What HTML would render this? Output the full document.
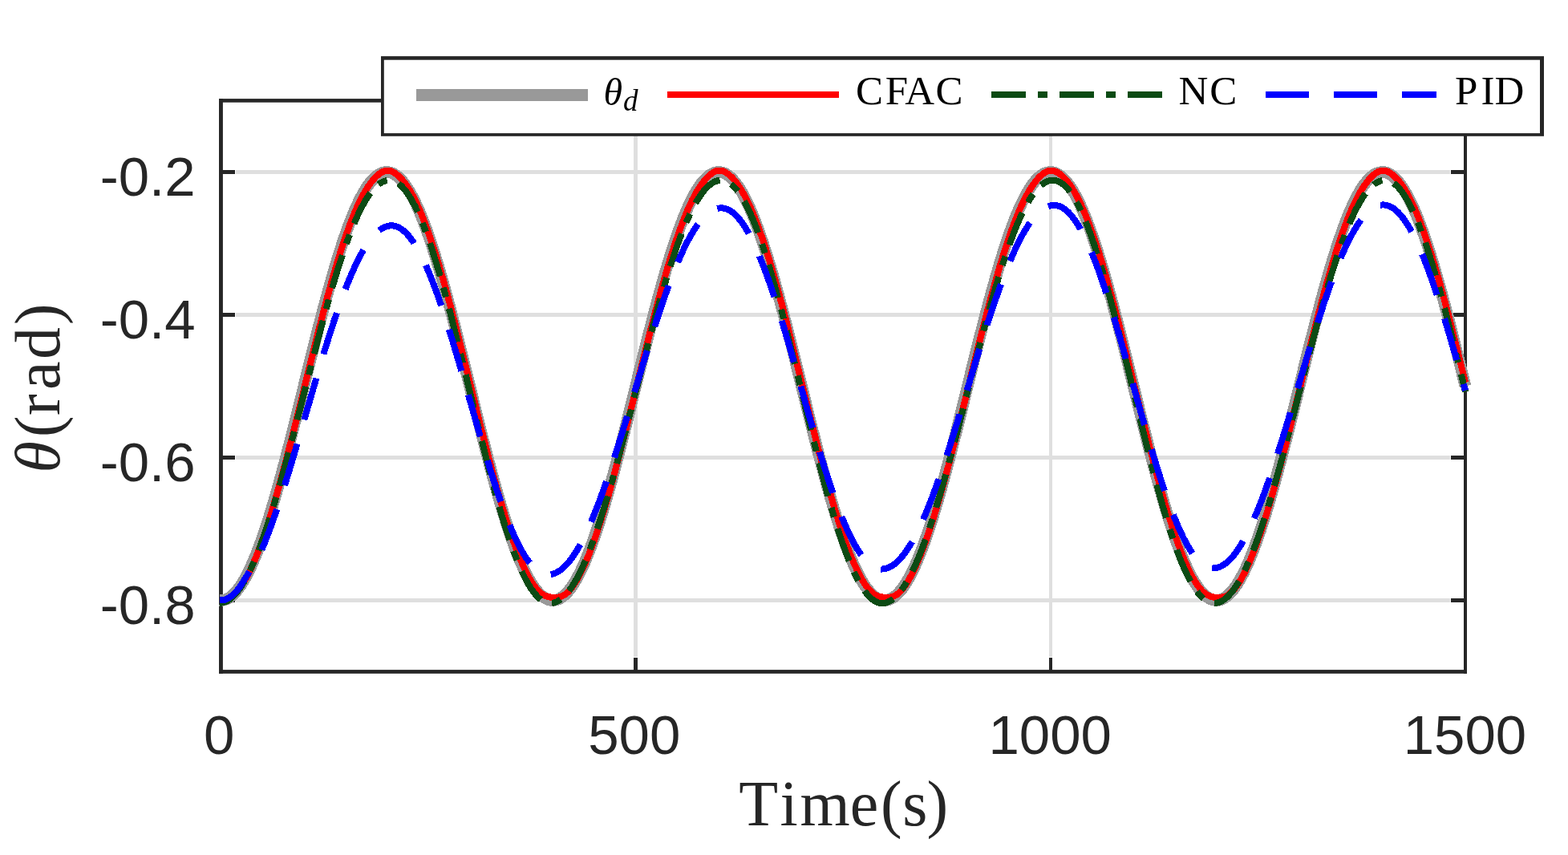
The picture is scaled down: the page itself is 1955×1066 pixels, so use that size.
<!DOCTYPE html>
<html lang="en">
<head>
<meta charset="utf-8">
<title>Tracking performance</title>
<style>
html,body{margin:0;padding:0;background:#ffffff;}
body{width:1955px;height:1066px;overflow:hidden;}
svg{display:block;}
</style>
</head>
<body>
<svg width="1955" height="1066" viewBox="0 0 1955 1066">
<rect x="0" y="0" width="1955" height="1066" fill="#ffffff"/>
<g fill="#dfdfdf" shape-rendering="crispEdges">
<rect x="294" y="212.1" width="1514" height="4.7"/>
<rect x="294" y="390.1" width="1514" height="4.7"/>
<rect x="294" y="568.1" width="1514" height="4.7"/>
<rect x="294" y="746.1" width="1514" height="4.7"/>
<rect x="790.0" y="144" width="5" height="675"/>
<rect x="1308.0" y="144" width="4" height="675"/>
</g>
<g fill="#262626">
<rect x="273" y="123.1" width="1556" height="4.6"/>
<rect x="273" y="835.1" width="1556" height="4.7"/>
<rect x="273" y="123.1" width="4.9" height="716.7"/>
<rect x="1825" y="123.1" width="4" height="716.7"/>
<rect x="277" y="212.0" width="16" height="5"/>
<rect x="1809" y="212.0" width="17" height="5"/>
<rect x="277" y="390.0" width="16" height="5"/>
<rect x="1809" y="390.0" width="17" height="5"/>
<rect x="277" y="568.0" width="16" height="5"/>
<rect x="1809" y="568.0" width="17" height="5"/>
<rect x="277" y="746.0" width="16" height="5"/>
<rect x="1809" y="746.0" width="17" height="5"/>
<rect x="790.0" y="820" width="5" height="16"/>
<rect x="790.0" y="127" width="5" height="16"/>
<rect x="1308.0" y="820" width="4" height="16"/>
<rect x="1308.0" y="127" width="4" height="16"/>
</g>
<g fill="none" stroke-linejoin="round" stroke-linecap="butt" shape-rendering="crispEdges">
<path d="M273.85,748.43 L274.88,748.49 L275.92,748.49 L276.95,748.43 L277.99,748.29 L279.03,748.10 L280.06,747.83 L281.10,747.50 L282.13,747.11 L283.17,746.64 L284.20,746.12 L285.24,745.53 L286.27,744.87 L287.31,744.15 L288.34,743.36 L289.38,742.51 L290.42,741.59 L291.45,740.61 L292.49,739.56 L293.52,738.45 L294.56,737.28 L295.59,736.05 L296.63,734.75 L297.66,733.39 L298.70,731.96 L299.73,730.48 L300.77,728.93 L301.81,727.32 L302.84,725.65 L303.88,723.92 L304.91,722.13 L305.95,720.29 L306.98,718.38 L308.02,716.41 L309.05,714.39 L310.09,712.30 L311.13,710.17 L312.16,707.97 L313.20,705.72 L314.23,703.41 L315.27,701.05 L316.30,698.63 L317.34,696.16 L318.37,693.64 L319.41,691.07 L320.44,688.44 L321.48,685.76 L322.52,683.03 L323.55,680.25 L324.59,677.42 L325.62,674.55 L326.66,671.62 L327.69,668.65 L328.73,665.64 L329.76,662.57 L330.80,659.47 L331.83,656.31 L332.87,653.12 L333.91,649.88 L334.94,646.60 L335.98,643.28 L337.01,639.92 L338.05,636.53 L339.08,633.09 L340.12,629.61 L341.15,626.10 L342.19,622.56 L343.22,618.97 L344.26,615.36 L345.30,611.71 L346.33,608.03 L347.37,604.32 L348.40,600.57 L349.44,596.80 L350.47,593.00 L351.51,589.17 L352.54,585.32 L353.58,581.44 L354.61,577.53 L355.65,573.60 L356.69,569.65 L357.72,565.68 L358.76,561.68 L359.79,557.67 L360.83,553.64 L361.86,549.58 L362.90,545.52 L363.93,541.43 L364.97,537.34 L366.00,533.22 L367.04,529.10 L368.08,524.96 L369.11,520.81 L370.15,516.66 L371.18,512.49 L372.22,508.32 L373.25,504.14 L374.29,499.95 L375.32,495.76 L376.36,491.57 L377.39,487.37 L378.43,483.17 L379.47,478.98 L380.50,474.78 L381.54,470.58 L382.57,466.39 L383.61,462.20 L384.64,458.01 L385.68,453.84 L386.71,449.66 L387.75,445.50 L388.78,441.34 L389.82,437.20 L390.86,433.06 L391.89,428.94 L392.93,424.83 L393.96,420.74 L395.00,416.66 L396.03,412.59 L397.07,408.55 L398.10,404.52 L399.14,400.51 L400.18,396.52 L401.21,392.55 L402.25,388.60 L403.28,384.67 L404.32,380.77 L405.35,376.90 L406.39,373.05 L407.42,369.23 L408.46,365.43 L409.49,361.67 L410.53,357.93 L411.57,354.22 L412.60,350.55 L413.64,346.91 L414.67,343.30 L415.71,339.72 L416.74,336.18 L417.78,332.68 L418.81,329.21 L419.85,325.78 L420.88,322.39 L421.92,319.04 L422.96,315.73 L423.99,312.46 L425.03,309.23 L426.06,306.04 L427.10,302.90 L428.13,299.80 L429.17,296.75 L430.20,293.74 L431.24,290.78 L432.27,287.86 L433.31,285.00 L434.35,282.18 L435.38,279.41 L436.42,276.69 L437.45,274.02 L438.49,271.41 L439.52,268.84 L440.56,266.33 L441.59,263.87 L442.63,261.47 L443.66,259.12 L444.70,256.82 L445.74,254.58 L446.77,252.40 L447.81,250.27 L448.84,248.20 L449.88,246.19 L450.91,244.23 L451.95,242.34 L452.98,240.50 L454.02,238.72 L455.05,237.00 L456.09,235.35 L457.13,233.75 L458.16,232.22 L459.20,230.74 L460.23,229.33 L461.27,227.98 L462.30,226.70 L463.34,225.48 L464.37,224.32 L465.41,223.22 L466.44,222.19 L467.48,221.22 L468.52,220.32 L469.55,219.48 L470.59,218.70 L471.62,217.99 L472.66,217.35 L473.69,216.77 L474.73,216.26 L475.76,215.81 L476.80,215.43 L477.83,215.11 L478.87,214.86 L479.91,214.67 L480.94,214.56 L481.98,214.50 L483.01,214.52 L484.05,214.60 L485.08,214.74 L486.12,214.95 L487.15,215.23 L488.19,215.57 L489.22,215.98 L490.26,216.46 L491.30,217.00 L492.33,217.60 L493.37,218.27 L494.40,219.01 L495.44,219.81 L496.47,220.67 L497.51,221.60 L498.54,222.60 L499.58,223.65 L500.62,224.78 L501.65,225.96 L502.69,227.21 L503.72,228.52 L504.76,229.89 L505.79,231.33 L506.83,232.83 L507.86,234.39 L508.90,236.01 L509.93,237.69 L510.97,239.43 L512.01,241.23 L513.04,243.09 L514.08,245.01 L515.11,246.99 L516.15,249.02 L517.18,251.12 L518.22,253.27 L519.25,255.48 L520.29,257.74 L521.32,260.06 L522.36,262.43 L523.40,264.86 L524.43,267.34 L525.47,269.87 L526.50,272.46 L527.54,275.09 L528.57,277.78 L529.61,280.52 L530.64,283.31 L531.68,286.15 L532.71,289.03 L533.75,291.97 L534.79,294.95 L535.82,297.97 L536.86,301.04 L537.89,304.16 L538.93,307.32 L539.96,310.52 L541.00,313.77 L542.03,317.06 L543.07,320.38 L544.10,323.75 L545.14,327.16 L546.18,330.60 L547.21,334.08 L548.25,337.60 L549.28,341.16 L550.32,344.75 L551.35,348.37 L552.39,352.02 L553.42,355.71 L554.46,359.43 L555.49,363.18 L556.53,366.96 L557.57,370.76 L558.60,374.60 L559.64,378.46 L560.67,382.34 L561.71,386.25 L562.74,390.19 L563.78,394.14 L564.81,398.12 L565.85,402.12 L566.88,406.14 L567.92,410.17 L568.96,414.23 L569.99,418.30 L571.03,422.38 L572.06,426.49 L573.10,430.60 L574.13,434.73 L575.17,438.87 L576.20,443.02 L577.24,447.17 L578.27,451.34 L579.31,455.52 L580.35,459.70 L581.38,463.89 L582.42,468.08 L583.45,472.27 L584.49,476.47 L585.52,480.67 L586.56,484.86 L587.59,489.06 L588.63,493.26 L589.67,497.45 L590.70,501.64 L591.74,505.82 L592.77,510.00 L593.81,514.17 L594.84,518.33 L595.88,522.48 L596.91,526.63 L597.95,530.76 L598.98,534.88 L600.02,538.99 L601.06,543.08 L602.09,547.16 L603.13,551.22 L604.16,555.26 L605.20,559.29 L606.23,563.29 L607.27,567.28 L608.30,571.24 L609.34,575.19 L610.37,579.11 L611.41,583.00 L612.45,586.87 L613.48,590.72 L614.52,594.53 L615.55,598.32 L616.59,602.08 L617.62,605.81 L618.66,609.51 L619.69,613.18 L620.73,616.82 L621.76,620.42 L622.80,623.99 L623.84,627.52 L624.87,631.02 L625.91,634.48 L626.94,637.90 L627.98,641.28 L629.01,644.63 L630.05,647.93 L631.08,651.19 L632.12,654.41 L633.15,657.59 L634.19,660.72 L635.23,663.81 L636.26,666.86 L637.30,669.86 L638.33,672.81 L639.37,675.71 L640.40,678.57 L641.44,681.38 L642.47,684.14 L643.51,686.84 L644.54,689.50 L645.58,692.11 L646.62,694.66 L647.65,697.16 L648.69,699.61 L649.72,702.01 L650.76,704.35 L651.79,706.63 L652.83,708.86 L653.86,711.03 L654.90,713.15 L655.93,715.21 L656.97,717.21 L658.01,719.15 L659.04,721.04 L660.08,722.86 L661.11,724.63 L662.15,726.33 L663.18,727.98 L664.22,729.56 L665.25,731.08 L666.29,732.54 L667.32,733.94 L668.36,735.28 L669.40,736.55 L670.43,737.76 L671.47,738.91 L672.50,739.99 L673.54,741.01 L674.57,741.97 L675.61,742.86 L676.64,743.68 L677.68,744.44 L678.71,745.14 L679.75,745.77 L680.79,746.34 L681.82,746.84 L682.86,747.27 L683.89,747.64 L684.93,747.95 L685.96,748.18 L687.00,748.35 L688.03,748.46 L689.07,748.50 L690.11,748.47 L691.14,748.38 L692.18,748.22 L693.21,748.00 L694.25,747.71 L695.28,747.35 L696.32,746.93 L697.35,746.44 L698.39,745.89 L699.42,745.27 L700.46,744.59 L701.50,743.84 L702.53,743.03 L703.57,742.15 L704.60,741.20 L705.64,740.20 L706.67,739.13 L707.71,737.99 L708.74,736.80 L709.78,735.53 L710.81,734.21 L711.85,732.82 L712.89,731.38 L713.92,729.87 L714.96,728.29 L715.99,726.66 L717.03,724.97 L718.06,723.22 L719.10,721.40 L720.13,719.53 L721.17,717.60 L722.20,715.61 L723.24,713.56 L724.28,711.46 L725.31,709.30 L726.35,707.08 L727.38,704.80 L728.42,702.47 L729.45,700.09 L730.49,697.65 L731.52,695.16 L732.56,692.62 L733.59,690.02 L734.63,687.37 L735.67,684.68 L736.70,681.93 L737.74,679.13 L738.77,676.28 L739.81,673.39 L740.84,670.44 L741.88,667.45 L742.91,664.42 L743.95,661.34 L744.98,658.21 L746.02,655.04 L747.06,651.83 L748.09,648.58 L749.13,645.28 L750.16,641.95 L751.20,638.57 L752.23,635.16 L753.27,631.70 L754.30,628.22 L755.34,624.69 L756.37,621.13 L757.41,617.53 L758.45,613.90 L759.48,610.24 L760.52,606.55 L761.55,602.82 L762.59,599.07 L763.62,595.29 L764.66,591.47 L765.69,587.63 L766.73,583.77 L767.76,579.88 L768.80,575.96 L769.84,572.03 L770.87,568.07 L771.91,564.08 L772.94,560.08 L773.98,556.06 L775.01,552.02 L776.05,547.96 L777.08,543.89 L778.12,539.80 L779.15,535.69 L780.19,531.58 L781.23,527.45 L782.26,523.31 L783.30,519.15 L784.33,514.99 L785.37,510.82 L786.40,506.65 L787.44,502.47 L788.47,498.28 L789.51,494.09 L790.55,489.89 L791.58,485.69 L792.62,481.50 L793.65,477.30 L794.69,473.10 L795.72,468.91 L796.76,464.71 L797.79,460.53 L798.83,456.34 L799.86,452.17 L800.90,448.00 L801.94,443.84 L802.97,439.69 L804.01,435.55 L805.04,431.42 L806.08,427.30 L807.11,423.19 L808.15,419.10 L809.18,415.03 L810.22,410.97 L811.25,406.93 L812.29,402.91 L813.33,398.91 L814.36,394.93 L815.40,390.97 L816.43,387.03 L817.47,383.11 L818.50,379.22 L819.54,375.36 L820.57,371.52 L821.61,367.71 L822.64,363.92 L823.68,360.17 L824.72,356.44 L825.75,352.75 L826.79,349.09 L827.82,345.46 L828.86,341.86 L829.89,338.30 L830.93,334.78 L831.96,331.29 L833.00,327.84 L834.03,324.42 L835.07,321.05 L836.11,317.71 L837.14,314.42 L838.18,311.16 L839.21,307.95 L840.25,304.78 L841.28,301.66 L842.32,298.58 L843.35,295.54 L844.39,292.55 L845.42,289.61 L846.46,286.71 L847.50,283.87 L848.53,281.07 L849.57,278.32 L850.60,275.62 L851.64,272.97 L852.67,270.38 L853.71,267.83 L854.74,265.34 L855.78,262.90 L856.81,260.52 L857.85,258.19 L858.89,255.92 L859.92,253.70 L860.96,251.54 L861.99,249.43 L863.03,247.39 L864.06,245.40 L865.10,243.47 L866.13,241.59 L867.17,239.78 L868.20,238.03 L869.24,236.33 L870.28,234.70 L871.31,233.13 L872.35,231.62 L873.38,230.17 L874.42,228.79 L875.45,227.46 L876.49,226.20 L877.52,225.00 L878.56,223.87 L879.60,222.80 L880.63,221.79 L881.67,220.85 L882.70,219.97 L883.74,219.16 L884.77,218.41 L885.81,217.73 L886.84,217.11 L887.88,216.56 L888.91,216.07 L889.95,215.65 L890.99,215.29 L892.02,215.00 L893.06,214.78 L894.09,214.62 L895.13,214.53 L896.16,214.50 L897.20,214.54 L898.23,214.65 L899.27,214.82 L900.30,215.05 L901.34,215.36 L902.38,215.73 L903.41,216.16 L904.45,216.66 L905.48,217.23 L906.52,217.86 L907.55,218.56 L908.59,219.32 L909.62,220.14 L910.66,221.04 L911.69,221.99 L912.73,223.01 L913.77,224.09 L914.80,225.24 L915.84,226.45 L916.87,227.73 L917.91,229.06 L918.94,230.46 L919.98,231.92 L921.01,233.44 L922.05,235.03 L923.08,236.67 L924.12,238.38 L925.16,240.14 L926.19,241.97 L927.23,243.85 L928.26,245.79 L929.30,247.80 L930.33,249.85 L931.37,251.97 L932.40,254.14 L933.44,256.37 L934.47,258.66 L935.51,261.00 L936.55,263.39 L937.58,265.84 L938.62,268.34 L939.65,270.90 L940.69,273.50 L941.72,276.16 L942.76,278.87 L943.79,281.63 L944.83,284.44 L945.86,287.29 L946.90,290.20 L947.94,293.15 L948.97,296.15 L950.01,299.19 L951.04,302.28 L952.08,305.42 L953.11,308.60 L954.15,311.82 L955.18,315.08 L956.22,318.38 L957.25,321.72 L958.29,325.11 L959.33,328.53 L960.36,331.99 L961.40,335.49 L962.43,339.02 L963.47,342.59 L964.50,346.19 L965.54,349.83 L966.57,353.49 L967.61,357.19 L968.64,360.92 L969.68,364.68 L970.72,368.47 L971.75,372.29 L972.79,376.14 L973.82,380.01 L974.86,383.90 L975.89,387.82 L976.93,391.76 L977.96,395.73 L979.00,399.71 L980.04,403.72 L981.07,407.75 L982.11,411.79 L983.14,415.85 L984.18,419.93 L985.21,424.02 L986.25,428.13 L987.28,432.25 L988.32,436.38 L989.35,440.52 L990.39,444.68 L991.43,448.84 L992.46,453.01 L993.50,457.19 L994.53,461.37 L995.57,465.56 L996.60,469.75 L997.64,473.95 L998.67,478.14 L999.71,482.34 L1000.74,486.54 L1001.78,490.74 L1002.82,494.93 L1003.85,499.12 L1004.89,503.31 L1005.92,507.49 L1006.96,511.67 L1007.99,515.83 L1009.03,519.99 L1010.06,524.14 L1011.10,528.28 L1012.13,532.41 L1013.17,536.52 L1014.21,540.62 L1015.24,544.71 L1016.28,548.78 L1017.31,552.84 L1018.35,556.87 L1019.38,560.89 L1020.42,564.89 L1021.45,568.87 L1022.49,572.82 L1023.52,576.76 L1024.56,580.67 L1025.60,584.55 L1026.63,588.41 L1027.67,592.25 L1028.70,596.05 L1029.74,599.83 L1030.77,603.58 L1031.81,607.30 L1032.84,610.98 L1033.88,614.64 L1034.91,618.26 L1035.95,621.85 L1036.99,625.40 L1038.02,628.92 L1039.06,632.40 L1040.09,635.85 L1041.13,639.26 L1042.16,642.62 L1043.20,645.95 L1044.23,649.24 L1045.27,652.48 L1046.30,655.69 L1047.34,658.85 L1048.38,661.96 L1049.41,665.03 L1050.45,668.06 L1051.48,671.04 L1052.52,673.97 L1053.55,676.86 L1054.59,679.70 L1055.62,682.49 L1056.66,685.22 L1057.69,687.91 L1058.73,690.55 L1059.77,693.14 L1060.80,695.67 L1061.84,698.15 L1062.87,700.58 L1063.91,702.95 L1064.94,705.27 L1065.98,707.53 L1067.01,709.74 L1068.05,711.89 L1069.09,713.98 L1070.12,716.02 L1071.16,717.99 L1072.19,719.91 L1073.23,721.77 L1074.26,723.57 L1075.30,725.32 L1076.33,727.00 L1077.37,728.62 L1078.40,730.18 L1079.44,731.67 L1080.48,733.11 L1081.51,734.48 L1082.55,735.79 L1083.58,737.04 L1084.62,738.23 L1085.65,739.35 L1086.69,740.41 L1087.72,741.40 L1088.76,742.33 L1089.79,743.19 L1090.83,744.00 L1091.87,744.73 L1092.90,745.40 L1093.94,746.01 L1094.97,746.55 L1096.01,747.02 L1097.04,747.43 L1098.08,747.77 L1099.11,748.05 L1100.15,748.26 L1101.18,748.40 L1102.22,748.48 L1103.26,748.50 L1104.29,748.44 L1105.33,748.33 L1106.36,748.14 L1107.40,747.89 L1108.43,747.57 L1109.47,747.19 L1110.50,746.74 L1111.54,746.23 L1112.57,745.65 L1113.61,745.01 L1114.65,744.30 L1115.68,743.52 L1116.72,742.68 L1117.75,741.78 L1118.79,740.81 L1119.82,739.78 L1120.86,738.68 L1121.89,737.52 L1122.93,736.30 L1123.96,735.01 L1125.00,733.66 L1126.04,732.25 L1127.07,730.78 L1128.11,729.25 L1129.14,727.65 L1130.18,725.99 L1131.21,724.28 L1132.25,722.50 L1133.28,720.66 L1134.32,718.77 L1135.35,716.81 L1136.39,714.80 L1137.43,712.73 L1138.46,710.60 L1139.50,708.42 L1140.53,706.18 L1141.57,703.88 L1142.60,701.53 L1143.64,699.12 L1144.67,696.66 L1145.71,694.15 L1146.74,691.59 L1147.78,688.97 L1148.82,686.30 L1149.85,683.58 L1150.89,680.81 L1151.92,678.00 L1152.96,675.13 L1153.99,672.22 L1155.03,669.25 L1156.06,666.25 L1157.10,663.19 L1158.13,660.09 L1159.17,656.95 L1160.21,653.76 L1161.24,650.54 L1162.28,647.27 L1163.31,643.95 L1164.35,640.60 L1165.38,637.21 L1166.42,633.78 L1167.45,630.31 L1168.49,626.81 L1169.53,623.27 L1170.56,619.70 L1171.60,616.09 L1172.63,612.44 L1173.67,608.77 L1174.70,605.06 L1175.74,601.33 L1176.77,597.56 L1177.81,593.77 L1178.84,589.94 L1179.88,586.09 L1180.92,582.22 L1181.95,578.32 L1182.99,574.39 L1184.02,570.45 L1185.06,566.48 L1186.09,562.49 L1187.13,558.48 L1188.16,554.45 L1189.20,550.40 L1190.23,546.34 L1191.27,542.25 L1192.31,538.16 L1193.34,534.05 L1194.38,529.93 L1195.41,525.79 L1196.45,521.65 L1197.48,517.49 L1198.52,513.33 L1199.55,509.16 L1200.59,504.98 L1201.62,500.79 L1202.66,496.60 L1203.70,492.41 L1204.73,488.21 L1205.77,484.02 L1206.80,479.82 L1207.84,475.62 L1208.87,471.42 L1209.91,467.23 L1210.94,463.04 L1211.98,458.85 L1213.01,454.67 L1214.05,450.50 L1215.09,446.33 L1216.12,442.18 L1217.16,438.03 L1218.19,433.89 L1219.23,429.77 L1220.26,425.66 L1221.30,421.56 L1222.33,417.47 L1223.37,413.41 L1224.40,409.36 L1225.44,405.32 L1226.48,401.31 L1227.51,397.32 L1228.55,393.34 L1229.58,389.39 L1230.62,385.46 L1231.65,381.56 L1232.69,377.68 L1233.72,373.82 L1234.76,369.99 L1235.79,366.19 L1236.83,362.42 L1237.87,358.68 L1238.90,354.96 L1239.94,351.28 L1240.97,347.63 L1242.01,344.02 L1243.04,340.44 L1244.08,336.89 L1245.11,333.38 L1246.15,329.90 L1247.18,326.47 L1248.22,323.07 L1249.26,319.71 L1250.29,316.39 L1251.33,313.11 L1252.36,309.87 L1253.40,306.68 L1254.43,303.53 L1255.47,300.42 L1256.50,297.36 L1257.54,294.34 L1258.58,291.37 L1259.61,288.45 L1260.65,285.57 L1261.68,282.74 L1262.72,279.96 L1263.75,277.23 L1264.79,274.56 L1265.82,271.93 L1266.86,269.35 L1267.89,266.83 L1268.93,264.36 L1269.97,261.95 L1271.00,259.58 L1272.04,257.28 L1273.07,255.03 L1274.11,252.83 L1275.14,250.69 L1276.18,248.61 L1277.21,246.58 L1278.25,244.62 L1279.28,242.71 L1280.32,240.86 L1281.36,239.07 L1282.39,237.34 L1283.43,235.68 L1284.46,234.07 L1285.50,232.52 L1286.53,231.03 L1287.57,229.61 L1288.60,228.25 L1289.64,226.95 L1290.67,225.72 L1291.71,224.54 L1292.75,223.43 L1293.78,222.39 L1294.82,221.41 L1295.85,220.49 L1296.89,219.64 L1297.92,218.85 L1298.96,218.13 L1299.99,217.47 L1301.03,216.88 L1302.06,216.35 L1303.10,215.89 L1304.14,215.50 L1305.17,215.17 L1306.21,214.90 L1307.24,214.71 L1308.28,214.57 L1309.31,214.51 L1310.35,214.51 L1311.38,214.57 L1312.42,214.71 L1313.45,214.90 L1314.49,215.17 L1315.53,215.50 L1316.56,215.89 L1317.60,216.35 L1318.63,216.88 L1319.67,217.47 L1320.70,218.13 L1321.74,218.85 L1322.77,219.64 L1323.81,220.49 L1324.84,221.41 L1325.88,222.39 L1326.92,223.44 L1327.95,224.54 L1328.99,225.72 L1330.02,226.95 L1331.06,228.25 L1332.09,229.61 L1333.13,231.04 L1334.16,232.52 L1335.20,234.07 L1336.23,235.68 L1337.27,237.35 L1338.31,239.07 L1339.34,240.86 L1340.38,242.71 L1341.41,244.62 L1342.45,246.59 L1343.48,248.61 L1344.52,250.69 L1345.55,252.83 L1346.59,255.03 L1347.62,257.28 L1348.66,259.59 L1349.70,261.95 L1350.73,264.36 L1351.77,266.83 L1352.80,269.36 L1353.84,271.93 L1354.87,274.56 L1355.91,277.24 L1356.94,279.97 L1357.98,282.74 L1359.02,285.57 L1360.05,288.45 L1361.09,291.37 L1362.12,294.34 L1363.16,297.36 L1364.19,300.42 L1365.23,303.53 L1366.26,306.68 L1367.30,309.88 L1368.33,313.11 L1369.37,316.39 L1370.41,319.71 L1371.44,323.07 L1372.48,326.47 L1373.51,329.91 L1374.55,333.38 L1375.58,336.89 L1376.62,340.44 L1377.65,344.02 L1378.69,347.64 L1379.72,351.29 L1380.76,354.97 L1381.80,358.68 L1382.83,362.42 L1383.87,366.20 L1384.90,370.00 L1385.94,373.82 L1386.97,377.68 L1388.01,381.56 L1389.04,385.46 L1390.08,389.39 L1391.11,393.35 L1392.15,397.32 L1393.19,401.31 L1394.22,405.33 L1395.26,409.36 L1396.29,413.41 L1397.33,417.48 L1398.36,421.56 L1399.40,425.66 L1400.43,429.77 L1401.47,433.90 L1402.50,438.03 L1403.54,442.18 L1404.58,446.34 L1405.61,450.50 L1406.65,454.68 L1407.68,458.86 L1408.72,463.04 L1409.75,467.23 L1410.79,471.43 L1411.82,475.62 L1412.86,479.82 L1413.89,484.02 L1414.93,488.22 L1415.97,492.41 L1417.00,496.61 L1418.04,500.80 L1419.07,504.98 L1420.11,509.16 L1421.14,513.33 L1422.18,517.50 L1423.21,521.65 L1424.25,525.80 L1425.28,529.93 L1426.32,534.05 L1427.36,538.16 L1428.39,542.26 L1429.43,546.34 L1430.46,550.40 L1431.50,554.45 L1432.53,558.48 L1433.57,562.49 L1434.60,566.48 L1435.64,570.45 L1436.67,574.40 L1437.71,578.32 L1438.75,582.22 L1439.78,586.10 L1440.82,589.95 L1441.85,593.77 L1442.89,597.56 L1443.92,601.33 L1444.96,605.07 L1445.99,608.77 L1447.03,612.45 L1448.07,616.09 L1449.10,619.70 L1450.14,623.27 L1451.17,626.81 L1452.21,630.32 L1453.24,633.79 L1454.28,637.21 L1455.31,640.61 L1456.35,643.96 L1457.38,647.27 L1458.42,650.54 L1459.46,653.77 L1460.49,656.95 L1461.53,660.10 L1462.56,663.20 L1463.60,666.25 L1464.63,669.26 L1465.67,672.22 L1466.70,675.13 L1467.74,678.00 L1468.77,680.82 L1469.81,683.59 L1470.85,686.30 L1471.88,688.97 L1472.92,691.59 L1473.95,694.15 L1474.99,696.67 L1476.02,699.13 L1477.06,701.53 L1478.09,703.88 L1479.13,706.18 L1480.16,708.42 L1481.20,710.60 L1482.24,712.73 L1483.27,714.80 L1484.31,716.81 L1485.34,718.77 L1486.38,720.66 L1487.41,722.50 L1488.45,724.28 L1489.48,725.99 L1490.52,727.65 L1491.55,729.25 L1492.59,730.78 L1493.63,732.25 L1494.66,733.67 L1495.70,735.01 L1496.73,736.30 L1497.77,737.52 L1498.80,738.68 L1499.84,739.78 L1500.87,740.81 L1501.91,741.78 L1502.94,742.68 L1503.98,743.52 L1505.02,744.30 L1506.05,745.01 L1507.09,745.65 L1508.12,746.23 L1509.16,746.74 L1510.19,747.19 L1511.23,747.57 L1512.26,747.89 L1513.30,748.14 L1514.33,748.33 L1515.37,748.44 L1516.41,748.50 L1517.44,748.48 L1518.48,748.40 L1519.51,748.26 L1520.55,748.05 L1521.58,747.77 L1522.62,747.43 L1523.65,747.02 L1524.69,746.55 L1525.72,746.01 L1526.76,745.40 L1527.80,744.73 L1528.83,743.99 L1529.87,743.19 L1530.90,742.33 L1531.94,741.40 L1532.97,740.41 L1534.01,739.35 L1535.04,738.23 L1536.08,737.04 L1537.11,735.79 L1538.15,734.48 L1539.19,733.11 L1540.22,731.67 L1541.26,730.17 L1542.29,728.61 L1543.33,726.99 L1544.36,725.31 L1545.40,723.57 L1546.43,721.77 L1547.47,719.91 L1548.51,717.99 L1549.54,716.01 L1550.58,713.98 L1551.61,711.88 L1552.65,709.73 L1553.68,707.53 L1554.72,705.26 L1555.75,702.95 L1556.79,700.57 L1557.82,698.15 L1558.86,695.67 L1559.90,693.13 L1560.93,690.55 L1561.97,687.91 L1563.00,685.22 L1564.04,682.48 L1565.07,679.69 L1566.11,676.86 L1567.14,673.97 L1568.18,671.04 L1569.21,668.06 L1570.25,665.03 L1571.29,661.96 L1572.32,658.84 L1573.36,655.68 L1574.39,652.48 L1575.43,649.23 L1576.46,645.95 L1577.50,642.62 L1578.53,639.25 L1579.57,635.85 L1580.60,632.40 L1581.64,628.92 L1582.68,625.40 L1583.71,621.85 L1584.75,618.26 L1585.78,614.64 L1586.82,610.98 L1587.85,607.29 L1588.89,603.57 L1589.92,599.83 L1590.96,596.05 L1591.99,592.24 L1593.03,588.41 L1594.07,584.55 L1595.10,580.66 L1596.14,576.75 L1597.17,572.82 L1598.21,568.86 L1599.24,564.88 L1600.28,560.89 L1601.31,556.87 L1602.35,552.83 L1603.38,548.78 L1604.42,544.71 L1605.46,540.62 L1606.49,536.52 L1607.53,532.40 L1608.56,528.28 L1609.60,524.14 L1610.63,519.99 L1611.67,515.83 L1612.70,511.66 L1613.74,507.49 L1614.77,503.31 L1615.81,499.12 L1616.85,494.93 L1617.88,490.73 L1618.92,486.54 L1619.95,482.34 L1620.99,478.14 L1622.02,473.94 L1623.06,469.75 L1624.09,465.56 L1625.13,461.37 L1626.16,457.18 L1627.20,453.01 L1628.24,448.84 L1629.27,444.67 L1630.31,440.52 L1631.34,436.38 L1632.38,432.24 L1633.41,428.12 L1634.45,424.02 L1635.48,419.92 L1636.52,415.85 L1637.56,411.79 L1638.59,407.74 L1639.63,403.72 L1640.66,399.71 L1641.70,395.72 L1642.73,391.76 L1643.77,387.82 L1644.80,383.90 L1645.84,380.00 L1646.87,376.13 L1647.91,372.29 L1648.95,368.47 L1649.98,364.68 L1651.02,360.92 L1652.05,357.19 L1653.09,353.49 L1654.12,349.82 L1655.16,346.19 L1656.19,342.58 L1657.23,339.02 L1658.26,335.48 L1659.30,331.99 L1660.34,328.53 L1661.37,325.10 L1662.41,321.72 L1663.44,318.38 L1664.48,315.07 L1665.51,311.81 L1666.55,308.59 L1667.58,305.41 L1668.62,302.28 L1669.65,299.19 L1670.69,296.15 L1671.73,293.15 L1672.76,290.20 L1673.80,287.29 L1674.83,284.43 L1675.87,281.63 L1676.90,278.87 L1677.94,276.16 L1678.97,273.50 L1680.01,270.89 L1681.04,268.34 L1682.08,265.84 L1683.12,263.39 L1684.15,261.00 L1685.19,258.66 L1686.22,256.37 L1687.26,254.14 L1688.29,251.97 L1689.33,249.85 L1690.36,247.79 L1691.40,245.79 L1692.43,243.85 L1693.47,241.97 L1694.51,240.14 L1695.54,238.37 L1696.58,236.67 L1697.61,235.03 L1698.65,233.44 L1699.68,231.92 L1700.72,230.46 L1701.75,229.06 L1702.79,227.72 L1703.82,226.45 L1704.86,225.24 L1705.90,224.09 L1706.93,223.01 L1707.97,221.99 L1709.00,221.03 L1710.04,220.14 L1711.07,219.32 L1712.11,218.56 L1713.14,217.86 L1714.18,217.23 L1715.21,216.66 L1716.25,216.16 L1717.29,215.73 L1718.32,215.36 L1719.36,215.05 L1720.39,214.82 L1721.43,214.65 L1722.46,214.54 L1723.50,214.50 L1724.53,214.53 L1725.57,214.62 L1726.60,214.78 L1727.64,215.00 L1728.68,215.29 L1729.71,215.65 L1730.75,216.07 L1731.78,216.56 L1732.82,217.11 L1733.85,217.73 L1734.89,218.41 L1735.92,219.16 L1736.96,219.97 L1738.00,220.85 L1739.03,221.79 L1740.07,222.80 L1741.10,223.87 L1742.14,225.01 L1743.17,226.20 L1744.21,227.46 L1745.24,228.79 L1746.28,230.17 L1747.31,231.62 L1748.35,233.13 L1749.39,234.70 L1750.42,236.34 L1751.46,238.03 L1752.49,239.78 L1753.53,241.60 L1754.56,243.47 L1755.60,245.40 L1756.63,247.39 L1757.67,249.44 L1758.70,251.54 L1759.74,253.70 L1760.78,255.92 L1761.81,258.19 L1762.85,260.52 L1763.88,262.91 L1764.92,265.34 L1765.95,267.84 L1766.99,270.38 L1768.02,272.98 L1769.06,275.62 L1770.09,278.32 L1771.13,281.07 L1772.17,283.87 L1773.20,286.72 L1774.24,289.61 L1775.27,292.55 L1776.31,295.54 L1777.34,298.58 L1778.38,301.66 L1779.41,304.79 L1780.45,307.95 L1781.48,311.17 L1782.52,314.42 L1783.56,317.71 L1784.59,321.05 L1785.63,324.43 L1786.66,327.84 L1787.70,331.29 L1788.73,334.78 L1789.77,338.31 L1790.80,341.87 L1791.84,345.46 L1792.87,349.09 L1793.91,352.75 L1794.95,356.45 L1795.98,360.17 L1797.02,363.93 L1798.05,367.71 L1799.09,371.52 L1800.12,375.36 L1801.16,379.23 L1802.19,383.12 L1803.23,387.03 L1804.26,390.97 L1805.30,394.93 L1806.34,398.91 L1807.37,402.92 L1808.41,406.94 L1809.44,410.98 L1810.48,415.03 L1811.51,419.11 L1812.55,423.20 L1813.58,427.30 L1814.62,431.42 L1815.65,435.55 L1816.69,439.69 L1817.73,443.84 L1818.76,448.00 L1819.80,452.17 L1820.83,456.35 L1821.87,460.53 L1822.90,464.72 L1823.94,468.91 L1824.97,473.10 L1826.01,477.30 L1827.05,481.50" stroke="#999999" stroke-width="14.7"/>
<path d="M273.85,748.50 L274.88,748.50 L275.92,748.50 L276.95,748.49 L277.99,748.44 L279.03,748.31 L280.06,748.12 L281.10,747.86 L282.13,747.54 L283.17,747.15 L284.20,746.69 L285.24,746.17 L286.27,745.59 L287.31,744.94 L288.34,744.22 L289.38,743.44 L290.42,742.59 L291.45,741.68 L292.49,740.71 L293.52,739.67 L294.56,738.57 L295.59,737.40 L296.63,736.17 L297.66,734.88 L298.70,733.52 L299.73,732.11 L300.77,730.63 L301.81,729.09 L302.84,727.48 L303.88,725.82 L304.91,724.10 L305.95,722.31 L306.98,720.47 L308.02,718.57 L309.05,716.61 L310.09,714.59 L311.13,712.51 L312.16,710.38 L313.20,708.19 L314.23,705.94 L315.27,703.64 L316.30,701.29 L317.34,698.87 L318.37,696.41 L319.41,693.89 L320.44,691.32 L321.48,688.70 L322.52,686.03 L323.55,683.30 L324.59,680.53 L325.62,677.71 L326.66,674.83 L327.69,671.92 L328.73,668.95 L329.76,665.94 L330.80,662.88 L331.83,659.78 L332.87,656.63 L333.91,653.44 L334.94,650.20 L335.98,646.93 L337.01,643.61 L338.05,640.26 L339.08,636.86 L340.12,633.43 L341.15,629.96 L342.19,626.45 L343.22,622.91 L344.26,619.33 L345.30,615.72 L346.33,612.07 L347.37,608.39 L348.40,604.68 L349.44,600.94 L350.47,597.18 L351.51,593.38 L352.54,589.55 L353.58,585.70 L354.61,581.82 L355.65,577.92 L356.69,573.99 L357.72,570.04 L358.76,566.07 L359.79,562.08 L360.83,558.07 L361.86,554.04 L362.90,549.99 L363.93,545.92 L364.97,541.84 L366.00,537.74 L367.04,533.63 L368.08,529.51 L369.11,525.37 L370.15,521.22 L371.18,517.07 L372.22,512.90 L373.25,508.73 L374.29,504.55 L375.32,500.37 L376.36,496.18 L377.39,491.98 L378.43,487.79 L379.47,483.59 L380.50,479.39 L381.54,475.19 L382.57,471.00 L383.61,466.80 L384.64,462.61 L385.68,458.43 L386.71,454.25 L387.75,450.08 L388.78,445.91 L389.82,441.75 L390.86,437.61 L391.89,433.47 L392.93,429.35 L393.96,425.24 L395.00,421.14 L396.03,417.06 L397.07,412.99 L398.10,408.94 L399.14,404.91 L400.18,400.90 L401.21,396.91 L402.25,392.94 L403.28,388.99 L404.32,385.06 L405.35,381.16 L406.39,377.28 L407.42,373.43 L408.46,369.60 L409.49,365.81 L410.53,362.04 L411.57,358.30 L412.60,354.59 L413.64,350.91 L414.67,347.26 L415.71,343.65 L416.74,340.07 L417.78,336.53 L418.81,333.02 L419.85,329.55 L420.88,326.12 L421.92,322.72 L422.96,319.37 L423.99,316.05 L425.03,312.78 L426.06,309.55 L427.10,306.36 L428.13,303.21 L429.17,300.11 L430.20,297.05 L431.24,294.04 L432.27,291.07 L433.31,288.15 L434.35,285.28 L435.38,282.46 L436.42,279.68 L437.45,276.96 L438.49,274.29 L439.52,271.66 L440.56,269.09 L441.59,266.58 L442.63,264.11 L443.66,261.70 L444.70,259.35 L445.74,257.04 L446.77,254.80 L447.81,252.61 L448.84,250.47 L449.88,248.39 L450.91,246.37 L451.95,244.41 L452.98,242.50 L454.02,240.65 L455.05,238.86 L456.09,237.13 L457.13,235.45 L458.16,233.83 L459.20,232.27 L460.23,230.76 L461.27,229.31 L462.30,227.91 L463.34,226.57 L464.37,225.28 L465.41,224.04 L466.44,222.86 L467.48,221.73 L468.52,220.66 L469.55,219.64 L470.59,218.68 L471.62,217.78 L472.66,216.94 L473.69,216.17 L474.73,215.46 L475.76,214.83 L476.80,214.27 L477.83,213.79 L478.87,213.39 L479.91,213.07 L480.94,212.84 L481.98,212.70 L483.01,212.64 L484.05,212.67 L485.08,212.79 L486.12,213.00 L487.15,213.29 L488.19,213.66 L489.22,214.10 L490.26,214.62 L491.30,215.21 L492.33,215.87 L493.37,216.59 L494.40,217.37 L495.44,218.21 L496.47,219.11 L497.51,220.06 L498.54,221.07 L499.58,222.14 L500.62,223.25 L501.65,224.43 L502.69,225.65 L503.72,226.94 L504.76,228.27 L505.79,229.67 L506.83,231.12 L507.86,232.63 L508.90,234.19 L509.93,235.82 L510.97,237.50 L512.01,239.24 L513.04,241.04 L514.08,242.90 L515.11,244.81 L516.15,246.79 L517.18,248.82 L518.22,250.91 L519.25,253.05 L520.29,255.25 L521.32,257.51 L522.36,259.82 L523.40,262.19 L524.43,264.61 L525.47,267.09 L526.50,269.62 L527.54,272.20 L528.57,274.83 L529.61,277.51 L530.64,280.25 L531.68,283.03 L532.71,285.86 L533.75,288.74 L534.79,291.67 L535.82,294.65 L536.86,297.67 L537.89,300.74 L538.93,303.85 L539.96,307.01 L541.00,310.21 L542.03,313.45 L543.07,316.73 L544.10,320.05 L545.14,323.42 L546.18,326.82 L547.21,330.26 L548.25,333.74 L549.28,337.25 L550.32,340.80 L551.35,344.39 L552.39,348.01 L553.42,351.66 L554.46,355.34 L555.49,359.06 L556.53,362.81 L557.57,366.58 L558.60,370.38 L559.64,374.22 L560.67,378.07 L561.71,381.96 L562.74,385.86 L563.78,389.80 L564.81,393.75 L565.85,397.73 L566.88,401.72 L567.92,405.74 L568.96,409.77 L569.99,413.83 L571.03,417.89 L572.06,421.98 L573.10,426.08 L574.13,430.19 L575.17,434.32 L576.20,438.46 L577.24,442.61 L578.27,446.76 L579.31,450.93 L580.35,455.10 L581.38,459.28 L582.42,463.47 L583.45,467.66 L584.49,471.86 L585.52,476.05 L586.56,480.25 L587.59,484.45 L588.63,488.65 L589.67,492.84 L590.70,497.03 L591.74,501.22 L592.77,505.41 L593.81,509.59 L594.84,513.76 L595.88,517.92 L596.91,522.07 L597.95,526.22 L598.98,530.35 L600.02,534.47 L601.06,538.58 L602.09,542.68 L603.13,546.75 L604.16,550.82 L605.20,554.86 L606.23,558.89 L607.27,562.90 L608.30,566.89 L609.34,570.85 L610.37,574.80 L611.41,578.72 L612.45,582.62 L613.48,586.49 L614.52,590.34 L615.55,594.16 L616.59,597.95 L617.62,601.71 L618.66,605.45 L619.69,609.15 L620.73,612.82 L621.76,616.46 L622.80,620.07 L623.84,623.64 L624.87,627.17 L625.91,630.67 L626.94,634.14 L627.98,637.56 L629.01,640.95 L630.05,644.30 L631.08,647.60 L632.12,650.87 L633.15,654.09 L634.19,657.28 L635.23,660.41 L636.26,663.51 L637.30,666.56 L638.33,669.56 L639.37,672.52 L640.40,675.43 L641.44,678.29 L642.47,681.10 L643.51,683.86 L644.54,686.58 L645.58,689.24 L646.62,691.85 L647.65,694.41 L648.69,696.92 L649.72,699.37 L650.76,701.77 L651.79,704.11 L652.83,706.40 L653.86,708.63 L654.90,710.81 L655.93,712.92 L656.97,714.98 L658.01,716.98 L659.04,718.92 L660.08,720.79 L661.11,722.60 L662.15,724.35 L663.18,726.02 L664.22,727.63 L665.25,729.17 L666.29,730.64 L667.32,732.04 L668.36,733.35 L669.40,734.60 L670.43,735.76 L671.47,736.85 L672.50,737.85 L673.54,738.78 L674.57,739.62 L675.61,740.39 L676.64,741.09 L677.68,741.71 L678.71,742.26 L679.75,742.74 L680.79,743.17 L681.82,743.53 L682.86,743.85 L683.89,744.12 L684.93,744.34 L685.96,744.53 L687.00,744.68 L688.03,744.80 L689.07,744.89 L690.11,744.95 L691.14,744.98 L692.18,744.98 L693.21,744.95 L694.25,744.87 L695.28,744.76 L696.32,744.60 L697.35,744.39 L698.39,744.12 L699.42,743.79 L700.46,743.40 L701.50,742.93 L702.53,742.40 L703.57,741.78 L704.60,741.09 L705.64,740.32 L706.67,739.47 L707.71,738.54 L708.74,737.53 L709.78,736.45 L710.81,735.28 L711.85,734.04 L712.89,732.72 L713.92,731.33 L714.96,729.87 L715.99,728.34 L717.03,726.74 L718.06,725.07 L719.10,723.34 L720.13,721.55 L721.17,719.69 L722.20,717.77 L723.24,715.79 L724.28,713.76 L725.31,711.66 L726.35,709.51 L727.38,707.30 L728.42,705.03 L729.45,702.71 L730.49,700.33 L731.52,697.90 L732.56,695.41 L733.59,692.87 L734.63,690.28 L735.67,687.64 L736.70,684.94 L737.74,682.20 L738.77,679.41 L739.81,676.56 L740.84,673.67 L741.88,670.74 L742.91,667.75 L743.95,664.72 L744.98,661.64 L746.02,658.52 L747.06,655.36 L748.09,652.15 L749.13,648.90 L750.16,645.61 L751.20,642.28 L752.23,638.91 L753.27,635.50 L754.30,632.05 L755.34,628.56 L756.37,625.04 L757.41,621.48 L758.45,617.89 L759.48,614.26 L760.52,610.61 L761.55,606.92 L762.59,603.19 L763.62,599.44 L764.66,595.66 L765.69,591.85 L766.73,588.02 L767.76,584.15 L768.80,580.26 L769.84,576.35 L770.87,572.42 L771.91,568.46 L772.94,564.48 L773.98,560.48 L775.01,556.46 L776.05,552.42 L777.08,548.36 L778.12,544.29 L779.15,540.20 L780.19,536.10 L781.23,531.98 L782.26,527.86 L783.30,523.72 L784.33,519.56 L785.37,515.40 L786.40,511.24 L787.44,507.06 L788.47,502.88 L789.51,498.69 L790.55,494.50 L791.58,490.31 L792.62,486.11 L793.65,481.91 L794.69,477.71 L795.72,473.52 L796.76,469.32 L797.79,465.13 L798.83,460.94 L799.86,456.76 L800.90,452.58 L801.94,448.41 L802.97,444.25 L804.01,440.10 L805.04,435.95 L806.08,431.82 L807.11,427.70 L808.15,423.60 L809.18,419.51 L810.22,415.43 L811.25,411.37 L812.29,407.33 L813.33,403.31 L814.36,399.30 L815.40,395.32 L816.43,391.36 L817.47,387.42 L818.50,383.50 L819.54,379.61 L820.57,375.74 L821.61,371.90 L822.64,368.08 L823.68,364.30 L824.72,360.54 L825.75,356.81 L826.79,353.11 L827.82,349.45 L828.86,345.82 L829.89,342.22 L830.93,338.65 L831.96,335.12 L833.00,331.63 L834.03,328.18 L835.07,324.76 L836.11,321.38 L837.14,318.04 L838.18,314.74 L839.21,311.48 L840.25,308.27 L841.28,305.09 L842.32,301.96 L843.35,298.88 L844.39,295.84 L845.42,292.84 L846.46,289.90 L847.50,287.00 L848.53,284.15 L849.57,281.34 L850.60,278.59 L851.64,275.89 L852.67,273.23 L853.71,270.63 L854.74,268.08 L855.78,265.59 L856.81,263.14 L857.85,260.75 L858.89,258.42 L859.92,256.14 L860.96,253.92 L861.99,251.75 L863.03,249.64 L864.06,247.58 L865.10,245.58 L866.13,243.64 L867.17,241.76 L868.20,239.93 L869.24,238.16 L870.28,236.45 L871.31,234.80 L872.35,233.20 L873.38,231.66 L874.42,230.17 L875.45,228.74 L876.49,227.37 L877.52,226.04 L878.56,224.78 L879.60,223.56 L880.63,222.40 L881.67,221.30 L882.70,220.24 L883.74,219.25 L884.77,218.31 L885.81,217.44 L886.84,216.62 L887.88,215.88 L888.91,215.20 L889.95,214.59 L890.99,214.07 L892.02,213.62 L893.06,213.25 L894.09,212.97 L895.13,212.77 L896.16,212.66 L897.20,212.64 L898.23,212.71 L899.27,212.87 L900.30,213.11 L901.34,213.43 L902.38,213.83 L903.41,214.30 L904.45,214.85 L905.48,215.47 L906.52,216.15 L907.55,216.89 L908.59,217.70 L909.62,218.56 L910.66,219.49 L911.69,220.46 L912.73,221.49 L913.77,222.58 L914.80,223.72 L915.84,224.91 L916.87,226.16 L917.91,227.46 L918.94,228.82 L919.98,230.24 L921.01,231.71 L922.05,233.25 L923.08,234.83 L924.12,236.48 L925.16,238.19 L926.19,239.95 L927.23,241.78 L928.26,243.66 L929.30,245.60 L930.33,247.59 L931.37,249.65 L932.40,251.76 L933.44,253.93 L934.47,256.15 L935.51,258.43 L936.55,260.76 L937.58,263.15 L938.62,265.60 L939.65,268.09 L940.69,270.64 L941.72,273.24 L942.76,275.90 L943.79,278.60 L944.83,281.35 L945.86,284.16 L946.90,287.01 L947.94,289.91 L948.97,292.86 L950.01,295.85 L951.04,298.89 L952.08,301.98 L953.11,305.11 L954.15,308.28 L955.18,311.50 L956.22,314.75 L957.25,318.05 L958.29,321.39 L959.33,324.77 L960.36,328.19 L961.40,331.65 L962.43,335.14 L963.47,338.67 L964.50,342.23 L965.54,345.83 L966.57,349.46 L967.61,353.13 L968.64,356.83 L969.68,360.55 L970.72,364.31 L971.75,368.10 L972.79,371.91 L973.82,375.75 L974.86,379.62 L975.89,383.51 L976.93,387.43 L977.96,391.37 L979.00,395.34 L980.04,399.32 L981.07,403.32 L982.11,407.35 L983.14,411.39 L984.18,415.45 L985.21,419.52 L986.25,423.62 L987.28,427.72 L988.32,431.84 L989.35,435.97 L990.39,440.11 L991.43,444.27 L992.46,448.43 L993.50,452.60 L994.53,456.77 L995.57,460.96 L996.60,465.15 L997.64,469.34 L998.67,473.53 L999.71,477.73 L1000.74,481.93 L1001.78,486.13 L1002.82,490.32 L1003.85,494.52 L1004.89,498.71 L1005.92,502.90 L1006.96,507.08 L1007.99,511.25 L1009.03,515.42 L1010.06,519.58 L1011.10,523.73 L1012.13,527.87 L1013.17,532.00 L1014.21,536.12 L1015.24,540.22 L1016.28,544.31 L1017.31,548.38 L1018.35,552.44 L1019.38,556.47 L1020.42,560.49 L1021.45,564.49 L1022.49,568.47 L1023.52,572.43 L1024.56,576.37 L1025.60,580.28 L1026.63,584.17 L1027.67,588.03 L1028.70,591.87 L1029.74,595.68 L1030.77,599.46 L1031.81,603.21 L1032.84,606.93 L1033.88,610.62 L1034.91,614.28 L1035.95,617.90 L1036.99,621.50 L1038.02,625.05 L1039.06,628.58 L1040.09,632.06 L1041.13,635.51 L1042.16,638.92 L1043.20,642.29 L1044.23,645.62 L1045.27,648.91 L1046.30,652.16 L1047.34,655.37 L1048.38,658.54 L1049.41,661.66 L1050.45,664.73 L1051.48,667.76 L1052.52,670.75 L1053.55,673.69 L1054.59,676.58 L1055.62,679.42 L1056.66,682.21 L1057.69,684.96 L1058.73,687.65 L1059.77,690.29 L1060.80,692.88 L1061.84,695.42 L1062.87,697.90 L1063.91,700.34 L1064.94,702.71 L1065.98,705.03 L1067.01,707.30 L1068.05,709.51 L1069.09,711.66 L1070.12,713.75 L1071.16,715.79 L1072.19,717.76 L1073.23,719.67 L1074.26,721.52 L1075.30,723.31 L1076.33,725.02 L1077.37,726.68 L1078.40,728.26 L1079.44,729.77 L1080.48,731.21 L1081.51,732.57 L1082.55,733.86 L1083.58,735.07 L1084.62,736.20 L1085.65,737.26 L1086.69,738.23 L1087.72,739.13 L1088.76,739.94 L1089.79,740.68 L1090.83,741.34 L1091.87,741.94 L1092.90,742.46 L1093.94,742.92 L1094.97,743.32 L1096.01,743.67 L1097.04,743.96 L1098.08,744.21 L1099.11,744.42 L1100.15,744.59 L1101.18,744.73 L1102.22,744.84 L1103.26,744.92 L1104.29,744.97 L1105.33,744.99 L1106.36,744.97 L1107.40,744.92 L1108.43,744.83 L1109.47,744.70 L1110.50,744.52 L1111.54,744.29 L1112.57,744.00 L1113.61,743.64 L1114.65,743.22 L1115.68,742.73 L1116.72,742.16 L1117.75,741.52 L1118.79,740.80 L1119.82,739.99 L1120.86,739.11 L1121.89,738.15 L1122.93,737.11 L1123.96,735.99 L1125.00,734.79 L1126.04,733.52 L1127.07,732.17 L1128.11,730.75 L1129.14,729.26 L1130.18,727.71 L1131.21,726.08 L1132.25,724.39 L1133.28,722.63 L1134.32,720.81 L1135.35,718.93 L1136.39,716.99 L1137.43,714.99 L1138.46,712.93 L1139.50,710.81 L1140.53,708.63 L1141.57,706.40 L1142.60,704.11 L1143.64,701.76 L1144.67,699.36 L1145.71,696.91 L1146.74,694.40 L1147.78,691.84 L1148.82,689.23 L1149.85,686.57 L1150.89,683.85 L1151.92,681.09 L1152.96,678.28 L1153.99,675.42 L1155.03,672.51 L1156.06,669.55 L1157.10,666.55 L1158.13,663.50 L1159.17,660.40 L1160.21,657.26 L1161.24,654.08 L1162.28,650.86 L1163.31,647.59 L1164.35,644.28 L1165.38,640.94 L1166.42,637.55 L1167.45,634.12 L1168.49,630.66 L1169.53,627.16 L1170.56,623.62 L1171.60,620.05 L1172.63,616.45 L1173.67,612.81 L1174.70,609.13 L1175.74,605.43 L1176.77,601.70 L1177.81,597.93 L1178.84,594.14 L1179.88,590.32 L1180.92,586.48 L1181.95,582.60 L1182.99,578.70 L1184.02,574.78 L1185.06,570.84 L1186.09,566.87 L1187.13,562.88 L1188.16,558.87 L1189.20,554.85 L1190.23,550.80 L1191.27,546.74 L1192.31,542.66 L1193.34,538.56 L1194.38,534.46 L1195.41,530.34 L1196.45,526.20 L1197.48,522.06 L1198.52,517.90 L1199.55,513.74 L1200.59,509.57 L1201.62,505.39 L1202.66,501.21 L1203.70,497.02 L1204.73,492.82 L1205.77,488.63 L1206.80,484.43 L1207.84,480.23 L1208.87,476.04 L1209.91,471.84 L1210.94,467.64 L1211.98,463.45 L1213.01,459.27 L1214.05,455.09 L1215.09,450.91 L1216.12,446.75 L1217.16,442.59 L1218.19,438.44 L1219.23,434.30 L1220.26,430.18 L1221.30,426.06 L1222.33,421.96 L1223.37,417.88 L1224.40,413.81 L1225.44,409.76 L1226.48,405.72 L1227.51,401.71 L1228.55,397.71 L1229.58,393.73 L1230.62,389.78 L1231.65,385.85 L1232.69,381.94 L1233.72,378.06 L1234.76,374.20 L1235.79,370.37 L1236.83,366.57 L1237.87,362.79 L1238.90,359.05 L1239.94,355.33 L1240.97,351.65 L1242.01,347.99 L1243.04,344.37 L1244.08,340.79 L1245.11,337.24 L1246.15,333.72 L1247.18,330.25 L1248.22,326.81 L1249.26,323.40 L1250.29,320.04 L1251.33,316.72 L1252.36,313.43 L1253.40,310.19 L1254.43,306.99 L1255.47,303.84 L1256.50,300.73 L1257.54,297.66 L1258.58,294.64 L1259.61,291.66 L1260.65,288.73 L1261.68,285.85 L1262.72,283.02 L1263.75,280.24 L1264.79,277.50 L1265.82,274.82 L1266.86,272.19 L1267.89,269.61 L1268.93,267.08 L1269.97,264.60 L1271.00,262.18 L1272.04,259.81 L1273.07,257.50 L1274.11,255.24 L1275.14,253.04 L1276.18,250.90 L1277.21,248.81 L1278.25,246.77 L1279.28,244.80 L1280.32,242.88 L1281.36,241.02 L1282.39,239.22 L1283.43,237.47 L1284.46,235.78 L1285.50,234.15 L1286.53,232.58 L1287.57,231.06 L1288.60,229.59 L1289.64,228.19 L1290.67,226.83 L1291.71,225.53 L1292.75,224.28 L1293.78,223.09 L1294.82,221.95 L1295.85,220.87 L1296.89,219.84 L1297.92,218.87 L1298.96,217.96 L1299.99,217.10 L1301.03,216.32 L1302.06,215.60 L1303.10,214.95 L1304.14,214.37 L1305.17,213.88 L1306.21,213.46 L1307.24,213.13 L1308.28,212.88 L1309.31,212.72 L1310.35,212.65 L1311.38,212.66 L1312.42,212.76 L1313.45,212.95 L1314.49,213.22 L1315.53,213.58 L1316.56,214.01 L1317.60,214.51 L1318.63,215.09 L1319.67,215.73 L1320.70,216.44 L1321.74,217.21 L1322.77,218.04 L1323.81,218.93 L1324.84,219.87 L1325.88,220.87 L1326.92,221.92 L1327.95,223.03 L1328.99,224.19 L1330.02,225.40 L1331.06,226.67 L1332.09,228.00 L1333.13,229.38 L1334.16,230.82 L1335.20,232.32 L1336.23,233.87 L1337.27,235.49 L1338.31,237.16 L1339.34,238.89 L1340.38,240.67 L1341.41,242.52 L1342.45,244.42 L1343.48,246.39 L1344.52,248.41 L1345.55,250.48 L1346.59,252.62 L1347.62,254.81 L1348.66,257.05 L1349.70,259.36 L1350.73,261.71 L1351.77,264.12 L1352.80,266.59 L1353.84,269.10 L1354.87,271.68 L1355.91,274.30 L1356.94,276.97 L1357.98,279.69 L1359.02,282.47 L1360.05,285.29 L1361.09,288.16 L1362.12,291.08 L1363.16,294.05 L1364.19,297.06 L1365.23,300.12 L1366.26,303.22 L1367.30,306.37 L1368.33,309.56 L1369.37,312.79 L1370.41,316.07 L1371.44,319.38 L1372.48,322.74 L1373.51,326.13 L1374.55,329.57 L1375.58,333.04 L1376.62,336.54 L1377.65,340.09 L1378.69,343.67 L1379.72,347.28 L1380.76,350.92 L1381.80,354.60 L1382.83,358.31 L1383.87,362.05 L1384.90,365.82 L1385.94,369.62 L1386.97,373.44 L1388.01,377.30 L1389.04,381.17 L1390.08,385.08 L1391.11,389.00 L1392.15,392.95 L1393.19,396.93 L1394.22,400.92 L1395.26,404.93 L1396.29,408.96 L1397.33,413.01 L1398.36,417.08 L1399.40,421.16 L1400.43,425.25 L1401.47,429.37 L1402.50,433.49 L1403.54,437.62 L1404.58,441.77 L1405.61,445.93 L1406.65,450.09 L1407.68,454.27 L1408.72,458.44 L1409.75,462.63 L1410.79,466.82 L1411.82,471.01 L1412.86,475.21 L1413.89,479.41 L1414.93,483.61 L1415.97,487.80 L1417.00,492.00 L1418.04,496.19 L1419.07,500.38 L1420.11,504.57 L1421.14,508.75 L1422.18,512.92 L1423.21,517.08 L1424.25,521.24 L1425.28,525.39 L1426.32,529.52 L1427.36,533.65 L1428.39,537.76 L1429.43,541.85 L1430.46,545.94 L1431.50,550.00 L1432.53,554.05 L1433.57,558.08 L1434.60,562.09 L1435.64,566.09 L1436.67,570.06 L1437.71,574.01 L1438.75,577.93 L1439.78,581.84 L1440.82,585.71 L1441.85,589.57 L1442.89,593.39 L1443.92,597.19 L1444.96,600.96 L1445.99,604.70 L1447.03,608.41 L1448.07,612.09 L1449.10,615.73 L1450.14,619.34 L1451.17,622.92 L1452.21,626.47 L1453.24,629.97 L1454.28,633.44 L1455.31,636.88 L1456.35,640.27 L1457.38,643.63 L1458.42,646.94 L1459.46,650.22 L1460.49,653.45 L1461.53,656.64 L1462.56,659.79 L1463.60,662.89 L1464.63,665.95 L1465.67,668.96 L1466.70,671.93 L1467.74,674.85 L1468.77,677.72 L1469.81,680.54 L1470.85,683.31 L1471.88,686.04 L1472.92,688.71 L1473.95,691.33 L1474.99,693.90 L1476.02,696.42 L1477.06,698.88 L1478.09,701.29 L1479.13,703.65 L1480.16,705.95 L1481.20,708.19 L1482.24,710.38 L1483.27,712.50 L1484.31,714.57 L1485.34,716.58 L1486.38,718.53 L1487.41,720.42 L1488.45,722.24 L1489.48,724.00 L1490.52,725.69 L1491.55,727.32 L1492.59,728.87 L1493.63,730.35 L1494.66,731.76 L1495.70,733.10 L1496.73,734.35 L1497.77,735.53 L1498.80,736.63 L1499.84,737.66 L1500.87,738.60 L1501.91,739.46 L1502.94,740.25 L1503.98,740.95 L1505.02,741.59 L1506.05,742.15 L1507.09,742.65 L1508.12,743.09 L1509.16,743.46 L1510.19,743.79 L1511.23,744.07 L1512.26,744.30 L1513.30,744.49 L1514.33,744.65 L1515.37,744.78 L1516.41,744.88 L1517.44,744.94 L1518.48,744.98 L1519.51,744.99 L1520.55,744.96 L1521.58,744.89 L1522.62,744.79 L1523.65,744.64 L1524.69,744.43 L1525.72,744.18 L1526.76,743.86 L1527.80,743.48 L1528.83,743.03 L1529.87,742.51 L1530.90,741.91 L1531.94,741.24 L1532.97,740.48 L1534.01,739.65 L1535.04,738.74 L1536.08,737.74 L1537.11,736.67 L1538.15,735.52 L1539.19,734.29 L1540.22,732.99 L1541.26,731.62 L1542.29,730.17 L1543.33,728.65 L1544.36,727.06 L1545.40,725.41 L1546.43,723.69 L1547.47,721.91 L1548.51,720.07 L1549.54,718.16 L1550.58,716.20 L1551.61,714.17 L1552.65,712.09 L1553.68,709.94 L1554.72,707.74 L1555.75,705.49 L1556.79,703.18 L1557.82,700.81 L1558.86,698.39 L1559.90,695.91 L1560.93,693.39 L1561.97,690.80 L1563.00,688.17 L1564.04,685.49 L1565.07,682.76 L1566.11,679.97 L1567.14,677.14 L1568.18,674.26 L1569.21,671.33 L1570.25,668.35 L1571.29,665.33 L1572.32,662.26 L1573.36,659.15 L1574.39,656.00 L1575.43,652.80 L1576.46,649.56 L1577.50,646.27 L1578.53,642.95 L1579.57,639.59 L1580.60,636.18 L1581.64,632.74 L1582.68,629.26 L1583.71,625.75 L1584.75,622.20 L1585.78,618.61 L1586.82,615.00 L1587.85,611.34 L1588.89,607.66 L1589.92,603.94 L1590.96,600.20 L1591.99,596.42 L1593.03,592.62 L1594.07,588.79 L1595.10,584.93 L1596.14,581.05 L1597.17,577.14 L1598.21,573.21 L1599.24,569.25 L1600.28,565.28 L1601.31,561.28 L1602.35,557.27 L1603.38,553.23 L1604.42,549.18 L1605.46,545.11 L1606.49,541.02 L1607.53,536.92 L1608.56,532.81 L1609.60,528.69 L1610.63,524.55 L1611.67,520.40 L1612.70,516.24 L1613.74,512.07 L1614.77,507.90 L1615.81,503.72 L1616.85,499.53 L1617.88,495.34 L1618.92,491.15 L1619.95,486.95 L1620.99,482.75 L1622.02,478.56 L1623.06,474.36 L1624.09,470.16 L1625.13,465.97 L1626.16,461.78 L1627.20,457.60 L1628.24,453.42 L1629.27,449.25 L1630.31,445.08 L1631.34,440.93 L1632.38,436.79 L1633.41,432.65 L1634.45,428.53 L1635.48,424.42 L1636.52,420.33 L1637.56,416.25 L1638.59,412.19 L1639.63,408.14 L1640.66,404.11 L1641.70,400.11 L1642.73,396.12 L1643.77,392.15 L1644.80,388.21 L1645.84,384.28 L1646.87,380.39 L1647.91,376.51 L1648.95,372.67 L1649.98,368.85 L1651.02,365.05 L1652.05,361.29 L1653.09,357.56 L1654.12,353.85 L1655.16,350.18 L1656.19,346.54 L1657.23,342.94 L1658.26,339.37 L1659.30,335.83 L1660.34,332.33 L1661.37,328.87 L1662.41,325.44 L1663.44,322.05 L1664.48,318.71 L1665.51,315.40 L1666.55,312.13 L1667.58,308.91 L1668.62,305.73 L1669.65,302.59 L1670.69,299.49 L1671.73,296.45 L1672.76,293.44 L1673.80,290.49 L1674.83,287.58 L1675.87,284.71 L1676.90,281.90 L1677.94,279.14 L1678.97,276.42 L1680.01,273.76 L1681.04,271.15 L1682.08,268.59 L1683.12,266.08 L1684.15,263.63 L1685.19,261.23 L1686.22,258.88 L1687.26,256.59 L1688.29,254.36 L1689.33,252.18 L1690.36,250.05 L1691.40,247.99 L1692.43,245.98 L1693.47,244.03 L1694.51,242.13 L1695.54,240.29 L1696.58,238.51 L1697.61,236.79 L1698.65,235.13 L1699.68,233.52 L1700.72,231.96 L1701.75,230.47 L1702.79,229.03 L1703.82,227.64 L1704.86,226.31 L1705.90,225.03 L1706.93,223.80 L1707.97,222.63 L1709.00,221.51 L1710.04,220.45 L1711.07,219.44 L1712.11,218.50 L1713.14,217.61 L1714.18,216.78 L1715.21,216.02 L1716.25,215.33 L1717.29,214.71 L1718.32,214.17 L1719.36,213.70 L1720.39,213.32 L1721.43,213.02 L1722.46,212.80 L1723.50,212.68 L1724.53,212.64 L1725.57,212.69 L1726.60,212.83 L1727.64,213.05 L1728.68,213.36 L1729.71,213.74 L1730.75,214.20 L1731.78,214.73 L1732.82,215.34 L1733.85,216.01 L1734.89,216.74 L1735.92,217.53 L1736.96,218.39 L1738.00,219.30 L1739.03,220.26 L1740.07,221.28 L1741.10,222.35 L1742.14,223.48 L1743.17,224.67 L1744.21,225.90 L1745.24,227.20 L1746.28,228.55 L1747.31,229.95 L1748.35,231.41 L1749.39,232.93 L1750.42,234.51 L1751.46,236.15 L1752.49,237.84 L1753.53,239.59 L1754.56,241.40 L1755.60,243.27 L1756.63,245.20 L1757.67,247.19 L1758.70,249.23 L1759.74,251.33 L1760.78,253.49 L1761.81,255.70 L1762.85,257.97 L1763.88,260.29 L1764.92,262.67 L1765.95,265.10 L1766.99,267.59 L1768.02,270.13 L1769.06,272.72 L1770.09,275.36 L1771.13,278.05 L1772.17,280.80 L1773.20,283.59 L1774.24,286.43 L1775.27,289.32 L1776.31,292.26 L1777.34,295.25 L1778.38,298.28 L1779.41,301.35 L1780.45,304.47 L1781.48,307.64 L1782.52,310.85 L1783.56,314.10 L1784.59,317.39 L1785.63,320.72 L1786.66,324.09 L1787.70,327.50 L1788.73,330.95 L1789.77,334.43 L1790.80,337.96 L1791.84,341.51 L1792.87,345.11 L1793.91,348.73 L1794.95,352.39 L1795.98,356.08 L1797.02,359.80 L1798.05,363.55 L1799.09,367.34 L1800.12,371.14 L1801.16,374.98 L1802.19,378.84 L1803.23,382.73 L1804.26,386.64 L1805.30,390.58 L1806.34,394.54 L1807.37,398.52 L1808.41,402.52 L1809.44,406.54 L1810.48,410.58 L1811.51,414.63 L1812.55,418.71 L1813.58,422.79 L1814.62,426.90 L1815.65,431.01 L1816.69,435.14 L1817.73,439.28 L1818.76,443.43 L1819.80,447.59 L1820.83,451.76 L1821.87,455.93 L1822.90,460.12 L1823.94,464.30 L1824.97,468.50 L1826.01,472.69 L1827.05,476.89" stroke="#ff0000" stroke-width="8.2"/>
<path d="M273.85,751.79 L274.88,751.76 L275.92,751.67 L276.95,751.51 L277.99,751.29 L279.03,751.01 L280.06,750.67 L281.10,750.27 L282.13,749.80 L283.17,749.27 L284.20,748.68 L285.24,748.03 L286.27,747.32 L287.31,746.54 L288.34,745.71 L289.38,744.81 L290.42,743.86 L291.45,742.84 L292.49,741.76 L293.52,740.62 L294.56,739.43 L295.59,738.17 L296.63,736.86 L297.66,735.48 L298.70,734.05 L299.73,732.56 L300.77,731.01 L301.81,729.40 L302.84,727.74 L303.88,726.02 L304.91,724.24 L305.95,722.41 L306.98,720.53 L308.02,718.58 L309.05,716.59 L310.09,714.54 L311.13,712.43 L312.16,710.28 L313.20,708.07 L314.23,705.80 L315.27,703.49 L316.30,701.13 L317.34,698.71 L318.37,696.25 L319.41,693.74 L320.44,691.17 L321.48,688.56 L322.52,685.91 L323.55,683.20 L324.59,680.45 L325.62,677.66 L326.66,674.82 L327.69,671.93 L328.73,669.01 L329.76,666.04 L330.80,663.02 L331.83,659.97 L332.87,656.88 L333.91,653.74 L334.94,650.57 L335.98,647.36 L337.01,644.11 L338.05,640.82 L339.08,637.50 L340.12,634.14 L341.15,630.75 L342.19,627.32 L343.22,623.86 L344.26,620.37 L345.30,616.85 L346.33,613.30 L347.37,609.72 L348.40,606.11 L349.44,602.47 L350.47,598.80 L351.51,595.11 L352.54,591.39 L353.58,587.65 L354.61,583.89 L355.65,580.10 L356.69,576.29 L357.72,572.46 L358.76,568.61 L359.79,564.74 L360.83,560.86 L361.86,556.95 L362.90,553.03 L363.93,549.10 L364.97,545.15 L366.00,541.18 L367.04,537.21 L368.08,533.22 L369.11,529.22 L370.15,525.21 L371.18,521.20 L372.22,517.17 L373.25,513.14 L374.29,509.10 L375.32,505.06 L376.36,501.02 L377.39,496.97 L378.43,492.92 L379.47,488.86 L380.50,484.81 L381.54,480.76 L382.57,476.71 L383.61,472.66 L384.64,468.62 L385.68,464.58 L386.71,460.55 L387.75,456.52 L388.78,452.50 L389.82,448.49 L390.86,444.49 L391.89,440.50 L392.93,436.52 L393.96,432.55 L395.00,428.60 L396.03,424.66 L397.07,420.73 L398.10,416.82 L399.14,412.93 L400.18,409.06 L401.21,405.20 L402.25,401.37 L403.28,397.55 L404.32,393.76 L405.35,389.99 L406.39,386.24 L407.42,382.51 L408.46,378.81 L409.49,375.14 L410.53,371.49 L411.57,367.87 L412.60,364.28 L413.64,360.72 L414.67,357.19 L415.71,353.69 L416.74,350.22 L417.78,346.79 L418.81,343.39 L419.85,340.02 L420.88,336.69 L421.92,333.39 L422.96,330.13 L423.99,326.91 L425.03,323.72 L426.06,320.57 L427.10,317.47 L428.13,314.40 L429.17,311.38 L430.20,308.39 L431.24,305.45 L432.27,302.56 L433.31,299.70 L434.35,296.90 L435.38,294.13 L436.42,291.41 L437.45,288.74 L438.49,286.12 L439.52,283.54 L440.56,281.02 L441.59,278.54 L442.63,276.11 L443.66,273.73 L444.70,271.40 L445.74,269.13 L446.77,266.90 L447.81,264.73 L448.84,262.61 L449.88,260.54 L450.91,258.53 L451.95,256.57 L452.98,254.67 L454.02,252.82 L455.05,251.03 L456.09,249.29 L457.13,247.61 L458.16,245.99 L459.20,244.42 L460.23,242.91 L461.27,241.46 L462.30,240.07 L463.34,238.74 L464.37,237.47 L465.41,236.25 L466.44,235.10 L467.48,234.00 L468.52,232.97 L469.55,231.99 L470.59,231.08 L471.62,230.22 L472.66,229.43 L473.69,228.70 L474.73,228.03 L475.76,227.42 L476.80,226.88 L477.83,226.39 L478.87,225.97 L479.91,225.61 L480.94,225.31 L481.98,225.07 L483.01,224.90 L484.05,224.79 L485.08,224.74 L486.12,224.75 L487.15,224.84 L488.19,224.99 L489.22,225.21 L490.26,225.50 L491.30,225.86 L492.33,226.29 L493.37,226.79 L494.40,227.36 L495.44,227.99 L496.47,228.69 L497.51,229.47 L498.54,230.31 L499.58,231.21 L500.62,232.19 L501.65,233.23 L502.69,234.34 L503.72,235.52 L504.76,236.76 L505.79,238.07 L506.83,239.45 L507.86,240.89 L508.90,242.39 L509.93,243.96 L510.97,245.60 L512.01,247.29 L513.04,249.05 L514.08,250.88 L515.11,252.77 L516.15,254.71 L517.18,256.72 L518.22,258.79 L519.25,260.93 L520.29,263.12 L521.32,265.37 L522.36,267.68 L523.40,270.04 L524.43,272.47 L525.47,274.95 L526.50,277.48 L527.54,280.08 L528.57,282.72 L529.61,285.42 L530.64,288.18 L531.68,290.99 L532.71,293.84 L533.75,296.75 L534.79,299.72 L535.82,302.73 L536.86,305.78 L537.89,308.89 L538.93,312.04 L539.96,315.25 L541.00,318.49 L542.03,321.78 L543.07,325.12 L544.10,328.49 L545.14,331.91 L546.18,335.37 L547.21,338.87 L548.25,342.41 L549.28,345.99 L550.32,349.61 L551.35,353.26 L552.39,356.94 L553.42,360.67 L554.46,364.42 L555.49,368.21 L556.53,372.03 L557.57,375.88 L558.60,379.76 L559.64,383.67 L560.67,387.60 L561.71,391.57 L562.74,395.56 L563.78,399.57 L564.81,403.60 L565.85,407.66 L566.88,411.74 L567.92,415.84 L568.96,419.96 L569.99,424.09 L571.03,428.25 L572.06,432.42 L573.10,436.60 L574.13,440.80 L575.17,445.01 L576.20,449.23 L577.24,453.46 L578.27,457.70 L579.31,461.95 L580.35,466.20 L581.38,470.47 L582.42,474.73 L583.45,479.00 L584.49,483.27 L585.52,487.55 L586.56,491.82 L587.59,496.09 L588.63,500.37 L589.67,504.63 L590.70,508.90 L591.74,513.16 L592.77,517.41 L593.81,521.65 L594.84,525.89 L595.88,530.11 L596.91,534.33 L597.95,538.53 L598.98,542.72 L600.02,546.89 L601.06,551.05 L602.09,555.20 L603.13,559.32 L604.16,563.43 L605.20,567.51 L606.23,571.58 L607.27,575.63 L608.30,579.65 L609.34,583.65 L610.37,587.62 L611.41,591.56 L612.45,595.48 L613.48,599.38 L614.52,603.24 L615.55,607.07 L616.59,610.87 L617.62,614.64 L618.66,618.37 L619.69,622.08 L620.73,625.74 L621.76,629.37 L622.80,632.97 L623.84,636.52 L624.87,640.04 L625.91,643.51 L626.94,646.95 L627.98,650.34 L629.01,653.69 L630.05,657.00 L631.08,660.26 L632.12,663.48 L633.15,666.66 L634.19,669.78 L635.23,672.86 L636.26,675.89 L637.30,678.87 L638.33,681.80 L639.37,684.68 L640.40,687.51 L641.44,690.28 L642.47,693.00 L643.51,695.67 L644.54,698.29 L645.58,700.85 L646.62,703.35 L647.65,705.80 L648.69,708.19 L649.72,710.52 L650.76,712.79 L651.79,715.01 L652.83,717.16 L653.86,719.26 L654.90,721.29 L655.93,723.26 L656.97,725.17 L658.01,727.02 L659.04,728.81 L660.08,730.53 L661.11,732.19 L662.15,733.79 L663.18,735.32 L664.22,736.78 L665.25,738.19 L666.29,739.52 L667.32,740.79 L668.36,741.99 L669.40,743.13 L670.43,744.20 L671.47,745.20 L672.50,746.14 L673.54,747.00 L674.57,747.80 L675.61,748.53 L676.64,749.20 L677.68,749.79 L678.71,750.31 L679.75,750.77 L680.79,751.16 L681.82,751.48 L682.86,751.73 L683.89,751.91 L684.93,752.02 L685.96,752.06 L687.00,752.04 L688.03,751.95 L689.07,751.80 L690.11,751.59 L691.14,751.32 L692.18,750.99 L693.21,750.60 L694.25,750.15 L695.28,749.63 L696.32,749.06 L697.35,748.42 L698.39,747.72 L699.42,746.97 L700.46,746.15 L701.50,745.27 L702.53,744.33 L703.57,743.34 L704.60,742.28 L705.64,741.16 L706.67,739.99 L707.71,738.76 L708.74,737.46 L709.78,736.12 L710.81,734.71 L711.85,733.24 L712.89,731.72 L713.92,730.14 L714.96,728.51 L715.99,726.82 L717.03,725.07 L718.06,723.27 L719.10,721.41 L720.13,719.50 L721.17,717.54 L722.20,715.52 L723.24,713.45 L724.28,711.33 L725.31,709.15 L726.35,706.93 L727.38,704.65 L728.42,702.32 L729.45,699.94 L730.49,697.52 L731.52,695.04 L732.56,692.52 L733.59,689.94 L734.63,687.33 L735.67,684.66 L736.70,681.95 L737.74,679.20 L738.77,676.40 L739.81,673.55 L740.84,670.66 L741.88,667.73 L742.91,664.76 L743.95,661.75 L744.98,658.70 L746.02,655.61 L747.06,652.47 L748.09,649.30 L749.13,646.10 L750.16,642.85 L751.20,639.57 L752.23,636.26 L753.27,632.91 L754.30,629.53 L755.34,626.11 L756.37,622.66 L757.41,619.18 L758.45,615.67 L759.48,612.13 L760.52,608.56 L761.55,604.97 L762.59,601.34 L763.62,597.69 L764.66,594.02 L765.69,590.32 L766.73,586.59 L767.76,582.85 L768.80,579.08 L769.84,575.29 L770.87,571.48 L771.91,567.65 L772.94,563.80 L773.98,559.94 L775.01,556.05 L776.05,552.16 L777.08,548.24 L778.12,544.32 L779.15,540.38 L780.19,536.42 L781.23,532.46 L782.26,528.49 L783.30,524.50 L784.33,520.51 L785.37,516.51 L786.40,512.51 L787.44,508.50 L788.47,504.48 L789.51,500.46 L790.55,496.44 L791.58,492.42 L792.62,488.39 L793.65,484.37 L794.69,480.34 L795.72,476.32 L796.76,472.30 L797.79,468.29 L798.83,464.28 L799.86,460.27 L800.90,456.27 L801.94,452.28 L802.97,448.30 L804.01,444.33 L805.04,440.36 L806.08,436.41 L807.11,432.47 L808.15,428.54 L809.18,424.63 L810.22,420.73 L811.25,416.85 L812.29,412.99 L813.33,409.14 L814.36,405.31 L815.40,401.50 L816.43,397.71 L817.47,393.94 L818.50,390.19 L819.54,386.47 L820.57,382.77 L821.61,379.09 L822.64,375.44 L823.68,371.82 L824.72,368.22 L825.75,364.66 L826.79,361.12 L827.82,357.61 L828.86,354.13 L829.89,350.68 L830.93,347.26 L831.96,343.88 L833.00,340.53 L834.03,337.21 L835.07,333.93 L836.11,330.69 L837.14,327.48 L838.18,324.31 L839.21,321.18 L840.25,318.09 L841.28,315.04 L842.32,312.03 L843.35,309.05 L844.39,306.13 L845.42,303.24 L846.46,300.39 L847.50,297.59 L848.53,294.84 L849.57,292.13 L850.60,289.46 L851.64,286.85 L852.67,284.27 L853.71,281.75 L854.74,279.27 L855.78,276.85 L856.81,274.47 L857.85,272.14 L858.89,269.87 L859.92,267.64 L860.96,265.46 L861.99,263.34 L863.03,261.27 L864.06,259.25 L865.10,257.29 L866.13,255.38 L867.17,253.52 L868.20,251.72 L869.24,249.97 L870.28,248.28 L871.31,246.65 L872.35,245.07 L873.38,243.55 L874.42,242.08 L875.45,240.68 L876.49,239.33 L877.52,238.04 L878.56,236.80 L879.60,235.63 L880.63,234.51 L881.67,233.46 L882.70,232.46 L883.74,231.52 L884.77,230.65 L885.81,229.83 L886.84,229.07 L887.88,228.37 L888.91,227.74 L889.95,227.16 L890.99,226.65 L892.02,226.19 L893.06,225.80 L894.09,225.47 L895.13,225.20 L896.16,224.99 L897.20,224.85 L898.23,224.76 L899.27,224.74 L900.30,224.78 L901.34,224.89 L902.38,225.07 L903.41,225.32 L904.45,225.64 L905.48,226.02 L906.52,226.48 L907.55,227.01 L908.59,227.60 L909.62,228.26 L910.66,228.99 L911.69,229.79 L912.73,230.66 L913.77,231.60 L914.80,232.60 L915.84,233.67 L916.87,234.80 L917.91,236.01 L918.94,237.28 L919.98,238.61 L921.01,240.01 L922.05,241.48 L923.08,243.01 L924.12,244.61 L925.16,246.27 L926.19,247.99 L927.23,249.78 L928.26,251.63 L929.30,253.54 L930.33,255.51 L931.37,257.54 L932.40,259.64 L933.44,261.79 L934.47,264.01 L935.51,266.28 L936.55,268.61 L937.58,271.00 L938.62,273.45 L939.65,275.95 L940.69,278.51 L941.72,281.13 L942.76,283.80 L943.79,286.52 L944.83,289.29 L945.86,292.12 L946.90,295.00 L947.94,297.93 L948.97,300.91 L950.01,303.94 L951.04,307.02 L952.08,310.15 L953.11,313.32 L954.15,316.54 L955.18,319.80 L956.22,323.11 L957.25,326.46 L958.29,329.85 L959.33,333.29 L960.36,336.77 L961.40,340.28 L962.43,343.84 L963.47,347.43 L964.50,351.06 L965.54,354.73 L966.57,358.43 L967.61,362.16 L968.64,365.93 L969.68,369.73 L970.72,373.57 L971.75,377.43 L972.79,381.32 L973.82,385.24 L974.86,389.19 L975.89,393.16 L976.93,397.16 L977.96,401.18 L979.00,405.22 L980.04,409.29 L981.07,413.38 L982.11,417.48 L983.14,421.61 L984.18,425.75 L985.21,429.91 L986.25,434.09 L987.28,438.28 L988.32,442.48 L989.35,446.69 L990.39,450.92 L991.43,455.15 L992.46,459.40 L993.50,463.65 L994.53,467.91 L995.57,472.17 L996.60,476.44 L997.64,480.71 L998.67,484.98 L999.71,489.26 L1000.74,493.53 L1001.78,497.80 L1002.82,502.07 L1003.85,506.34 L1004.89,510.60 L1005.92,514.85 L1006.96,519.10 L1007.99,523.34 L1009.03,527.58 L1010.06,531.80 L1011.10,536.01 L1012.13,540.20 L1013.17,544.39 L1014.21,548.56 L1015.24,552.71 L1016.28,556.85 L1017.31,560.96 L1018.35,565.06 L1019.38,569.14 L1020.42,573.20 L1021.45,577.24 L1022.49,581.25 L1023.52,585.24 L1024.56,589.20 L1025.60,593.13 L1026.63,597.04 L1027.67,600.92 L1028.70,604.77 L1029.74,608.59 L1030.77,612.38 L1031.81,616.14 L1032.84,619.86 L1033.88,623.54 L1034.91,627.20 L1035.95,630.81 L1036.99,634.39 L1038.02,637.93 L1039.06,641.43 L1040.09,644.89 L1041.13,648.31 L1042.16,651.69 L1043.20,655.02 L1044.23,658.31 L1045.27,661.56 L1046.30,664.76 L1047.34,667.91 L1048.38,671.02 L1049.41,674.08 L1050.45,677.09 L1051.48,680.05 L1052.52,682.96 L1053.55,685.81 L1054.59,688.62 L1055.62,691.38 L1056.66,694.08 L1057.69,696.72 L1058.73,699.32 L1059.77,701.85 L1060.80,704.33 L1061.84,706.76 L1062.87,709.12 L1063.91,711.43 L1064.94,713.68 L1065.98,715.87 L1067.01,718.00 L1068.05,720.08 L1069.09,722.09 L1070.12,724.03 L1071.16,725.92 L1072.19,727.74 L1073.23,729.51 L1074.26,731.20 L1075.30,732.84 L1076.33,734.41 L1077.37,735.91 L1078.40,737.35 L1079.44,738.73 L1080.48,740.04 L1081.51,741.28 L1082.55,742.46 L1083.58,743.57 L1084.62,744.61 L1085.65,745.58 L1086.69,746.49 L1087.72,747.33 L1088.76,748.10 L1089.79,748.81 L1090.83,749.44 L1091.87,750.01 L1092.90,750.51 L1093.94,750.93 L1094.97,751.29 L1096.01,751.59 L1097.04,751.81 L1098.08,751.96 L1099.11,752.04 L1100.15,752.06 L1101.18,752.01 L1102.22,751.90 L1103.26,751.73 L1104.29,751.49 L1105.33,751.20 L1106.36,750.84 L1107.40,750.43 L1108.43,749.95 L1109.47,749.41 L1110.50,748.81 L1111.54,748.15 L1112.57,747.43 L1113.61,746.65 L1114.65,745.80 L1115.68,744.90 L1116.72,743.94 L1117.75,742.92 L1118.79,741.84 L1119.82,740.70 L1120.86,739.50 L1121.89,738.25 L1122.93,736.93 L1123.96,735.56 L1125.00,734.13 L1126.04,732.64 L1127.07,731.10 L1128.11,729.50 L1129.14,727.84 L1130.18,726.13 L1131.21,724.36 L1132.25,722.53 L1133.28,720.66 L1134.32,718.72 L1135.35,716.74 L1136.39,714.70 L1137.43,712.61 L1138.46,710.46 L1139.50,708.27 L1140.53,706.02 L1141.57,703.72 L1142.60,701.38 L1143.64,698.98 L1144.67,696.53 L1145.71,694.04 L1146.74,691.49 L1147.78,688.90 L1148.82,686.27 L1149.85,683.58 L1150.89,680.85 L1151.92,678.08 L1152.96,675.26 L1153.99,672.40 L1155.03,669.50 L1156.06,666.55 L1157.10,663.56 L1158.13,660.54 L1159.17,657.47 L1160.21,654.36 L1161.24,651.21 L1162.28,648.03 L1163.31,644.81 L1164.35,641.55 L1165.38,638.25 L1166.42,634.92 L1167.45,631.56 L1168.49,628.16 L1169.53,624.74 L1170.56,621.27 L1171.60,617.78 L1172.63,614.26 L1173.67,610.71 L1174.70,607.13 L1175.74,603.52 L1176.77,599.89 L1177.81,596.23 L1178.84,592.54 L1179.88,588.83 L1180.92,585.10 L1181.95,581.34 L1182.99,577.57 L1184.02,573.77 L1185.06,569.95 L1186.09,566.11 L1187.13,562.26 L1188.16,558.39 L1189.20,554.50 L1190.23,550.59 L1191.27,546.67 L1192.31,542.74 L1193.34,538.80 L1194.38,534.84 L1195.41,530.87 L1196.45,526.90 L1197.48,522.91 L1198.52,518.92 L1199.55,514.92 L1200.59,510.91 L1201.62,506.89 L1202.66,502.88 L1203.70,498.86 L1204.73,494.83 L1205.77,490.81 L1206.80,486.79 L1207.84,482.76 L1208.87,478.74 L1209.91,474.72 L1210.94,470.70 L1211.98,466.68 L1213.01,462.68 L1214.05,458.67 L1215.09,454.68 L1216.12,450.69 L1217.16,446.71 L1218.19,442.74 L1219.23,438.78 L1220.26,434.84 L1221.30,430.90 L1222.33,426.98 L1223.37,423.07 L1224.40,419.18 L1225.44,415.31 L1226.48,411.45 L1227.51,407.61 L1228.55,403.78 L1229.58,399.98 L1230.62,396.20 L1231.65,392.44 L1232.69,388.70 L1233.72,384.99 L1234.76,381.30 L1235.79,377.63 L1236.83,373.99 L1237.87,370.38 L1238.90,366.80 L1239.94,363.24 L1240.97,359.71 L1242.01,356.21 L1243.04,352.75 L1244.08,349.31 L1245.11,345.91 L1246.15,342.54 L1247.18,339.20 L1248.22,335.90 L1249.26,332.63 L1250.29,329.41 L1251.33,326.21 L1252.36,323.06 L1253.40,319.94 L1254.43,316.87 L1255.47,313.83 L1256.50,310.83 L1257.54,307.88 L1258.58,304.97 L1259.61,302.10 L1260.65,299.27 L1261.68,296.49 L1262.72,293.75 L1263.75,291.06 L1264.79,288.41 L1265.82,285.81 L1266.86,283.26 L1267.89,280.76 L1268.93,278.30 L1269.97,275.89 L1271.00,273.53 L1272.04,271.23 L1273.07,268.97 L1274.11,266.76 L1275.14,264.61 L1276.18,262.51 L1277.21,260.46 L1278.25,258.46 L1279.28,256.52 L1280.32,254.63 L1281.36,252.80 L1282.39,251.02 L1283.43,249.29 L1284.46,247.62 L1285.50,246.01 L1286.53,244.46 L1287.57,242.96 L1288.60,241.52 L1289.64,240.13 L1290.67,238.80 L1291.71,237.54 L1292.75,236.33 L1293.78,235.18 L1294.82,234.08 L1295.85,233.05 L1296.89,232.08 L1297.92,231.16 L1298.96,230.31 L1299.99,229.52 L1301.03,228.79 L1302.06,228.11 L1303.10,227.50 L1304.14,226.95 L1305.17,226.46 L1306.21,226.03 L1307.24,225.66 L1308.28,225.36 L1309.31,225.11 L1310.35,224.93 L1311.38,224.80 L1312.42,224.74 L1313.45,224.74 L1314.49,224.81 L1315.53,224.95 L1316.56,225.16 L1317.60,225.44 L1318.63,225.78 L1319.67,226.20 L1320.70,226.68 L1321.74,227.24 L1322.77,227.86 L1323.81,228.55 L1324.84,229.31 L1325.88,230.13 L1326.92,231.03 L1327.95,231.99 L1328.99,233.02 L1330.02,234.11 L1331.06,235.28 L1332.09,236.51 L1333.13,237.80 L1334.16,239.16 L1335.20,240.59 L1336.23,242.08 L1337.27,243.64 L1338.31,245.26 L1339.34,246.95 L1340.38,248.70 L1341.41,250.51 L1342.45,252.38 L1343.48,254.32 L1344.52,256.32 L1345.55,258.37 L1346.59,260.49 L1347.62,262.67 L1348.66,264.91 L1349.70,267.21 L1350.73,269.56 L1351.77,271.97 L1352.80,274.44 L1353.84,276.97 L1354.87,279.55 L1355.91,282.19 L1356.94,284.88 L1357.98,287.62 L1359.02,290.42 L1360.05,293.27 L1361.09,296.17 L1362.12,299.12 L1363.16,302.12 L1364.19,305.17 L1365.23,308.26 L1366.26,311.41 L1367.30,314.60 L1368.33,317.84 L1369.37,321.12 L1370.41,324.44 L1371.44,327.81 L1372.48,331.22 L1373.51,334.67 L1374.55,338.17 L1375.58,341.70 L1376.62,345.27 L1377.65,348.88 L1378.69,352.52 L1379.72,356.20 L1380.76,359.92 L1381.80,363.67 L1382.83,367.45 L1383.87,371.26 L1384.90,375.11 L1385.94,378.98 L1386.97,382.88 L1388.01,386.81 L1389.04,390.77 L1390.08,394.75 L1391.11,398.76 L1392.15,402.79 L1393.19,406.84 L1394.22,410.92 L1395.26,415.01 L1396.29,419.13 L1397.33,423.26 L1398.36,427.41 L1399.40,431.58 L1400.43,435.76 L1401.47,439.95 L1402.50,444.16 L1403.54,448.38 L1404.58,452.61 L1405.61,456.85 L1406.65,461.09 L1407.68,465.35 L1408.72,469.61 L1409.75,473.88 L1410.79,478.14 L1411.82,482.42 L1412.86,486.69 L1413.89,490.96 L1414.93,495.24 L1415.97,499.51 L1417.00,503.78 L1418.04,508.04 L1419.07,512.30 L1420.11,516.55 L1421.14,520.80 L1422.18,525.04 L1423.21,529.26 L1424.25,533.48 L1425.28,537.69 L1426.32,541.88 L1427.36,546.06 L1428.39,550.22 L1429.43,554.36 L1430.46,558.49 L1431.50,562.60 L1432.53,566.70 L1433.57,570.77 L1434.60,574.82 L1435.64,578.84 L1436.67,582.84 L1437.71,586.82 L1438.75,590.77 L1439.78,594.70 L1440.82,598.60 L1441.85,602.46 L1442.89,606.30 L1443.92,610.11 L1444.96,613.88 L1445.99,617.63 L1447.03,621.34 L1448.07,625.01 L1449.10,628.65 L1450.14,632.25 L1451.17,635.81 L1452.21,639.33 L1453.24,642.82 L1454.28,646.26 L1455.31,649.66 L1456.35,653.02 L1457.38,656.34 L1458.42,659.61 L1459.46,662.84 L1460.49,666.02 L1461.53,669.16 L1462.56,672.25 L1463.60,675.28 L1464.63,678.27 L1465.67,681.21 L1466.70,684.10 L1467.74,686.94 L1468.77,689.73 L1469.81,692.46 L1470.85,695.14 L1471.88,697.77 L1472.92,700.34 L1473.95,702.85 L1474.99,705.31 L1476.02,707.71 L1477.06,710.05 L1478.09,712.34 L1479.13,714.57 L1480.16,716.73 L1481.20,718.84 L1482.24,720.89 L1483.27,722.87 L1484.31,724.79 L1485.34,726.66 L1486.38,728.46 L1487.41,730.19 L1488.45,731.86 L1489.48,733.47 L1490.52,735.02 L1491.55,736.50 L1492.59,737.91 L1493.63,739.26 L1494.66,740.54 L1495.70,741.76 L1496.73,742.91 L1497.77,743.99 L1498.80,745.01 L1499.84,745.95 L1500.87,746.83 L1501.91,747.65 L1502.94,748.39 L1503.98,749.07 L1505.02,749.68 L1506.05,750.21 L1507.09,750.69 L1508.12,751.09 L1509.16,751.42 L1510.19,751.68 L1511.23,751.88 L1512.26,752.00 L1513.30,752.06 L1514.33,752.05 L1515.37,751.97 L1516.41,751.84 L1517.44,751.64 L1518.48,751.38 L1519.51,751.06 L1520.55,750.68 L1521.58,750.24 L1522.62,749.74 L1523.65,749.18 L1524.69,748.55 L1525.72,747.87 L1526.76,747.12 L1527.80,746.32 L1528.83,745.45 L1529.87,744.53 L1530.90,743.54 L1531.94,742.50 L1532.97,741.39 L1534.01,740.23 L1535.04,739.01 L1536.08,737.73 L1537.11,736.39 L1538.15,734.99 L1539.19,733.54 L1540.22,732.03 L1541.26,730.46 L1542.29,728.84 L1543.33,727.16 L1544.36,725.43 L1545.40,723.64 L1546.43,721.79 L1547.47,719.89 L1548.51,717.94 L1549.54,715.93 L1550.58,713.87 L1551.61,711.76 L1552.65,709.59 L1553.68,707.38 L1554.72,705.11 L1555.75,702.79 L1556.79,700.42 L1557.82,698.01 L1558.86,695.54 L1559.90,693.03 L1560.93,690.46 L1561.97,687.86 L1563.00,685.20 L1564.04,682.50 L1565.07,679.75 L1566.11,676.96 L1567.14,674.13 L1568.18,671.25 L1569.21,668.33 L1570.25,665.36 L1571.29,662.36 L1572.32,659.31 L1573.36,656.23 L1574.39,653.11 L1575.43,649.94 L1576.46,646.74 L1577.50,643.51 L1578.53,640.24 L1579.57,636.93 L1580.60,633.58 L1581.64,630.21 L1582.68,626.80 L1583.71,623.36 L1584.75,619.88 L1585.78,616.38 L1586.82,612.84 L1587.85,609.28 L1588.89,605.69 L1589.92,602.07 L1590.96,598.43 L1591.99,594.76 L1593.03,591.06 L1594.07,587.34 L1595.10,583.60 L1596.14,579.84 L1597.17,576.05 L1598.21,572.24 L1599.24,568.42 L1600.28,564.57 L1601.31,560.71 L1602.35,556.83 L1603.38,552.94 L1604.42,549.03 L1605.46,545.11 L1606.49,541.17 L1607.53,537.22 L1608.56,533.26 L1609.60,529.29 L1610.63,525.31 L1611.67,521.32 L1612.70,517.32 L1613.74,513.31 L1614.77,509.30 L1615.81,505.29 L1616.85,501.27 L1617.88,497.25 L1618.92,493.23 L1619.95,489.20 L1620.99,485.18 L1622.02,481.15 L1623.06,477.13 L1624.09,473.11 L1625.13,469.09 L1626.16,465.08 L1627.20,461.08 L1628.24,457.08 L1629.27,453.08 L1630.31,449.10 L1631.34,445.12 L1632.38,441.16 L1633.41,437.20 L1634.45,433.26 L1635.48,429.33 L1636.52,425.42 L1637.56,421.52 L1638.59,417.63 L1639.63,413.76 L1640.66,409.91 L1641.70,406.08 L1642.73,402.26 L1643.77,398.47 L1644.80,394.70 L1645.84,390.94 L1646.87,387.22 L1647.91,383.51 L1648.95,379.83 L1649.98,376.18 L1651.02,372.55 L1652.05,368.94 L1653.09,365.37 L1654.12,361.82 L1655.16,358.31 L1656.19,354.82 L1657.23,351.37 L1658.26,347.95 L1659.30,344.56 L1660.34,341.20 L1661.37,337.88 L1662.41,334.59 L1663.44,331.34 L1664.48,328.13 L1665.51,324.95 L1666.55,321.81 L1667.58,318.71 L1668.62,315.65 L1669.65,312.63 L1670.69,309.65 L1671.73,306.71 L1672.76,303.81 L1673.80,300.96 L1674.83,298.15 L1675.87,295.39 L1676.90,292.67 L1677.94,290.00 L1678.97,287.37 L1680.01,284.79 L1681.04,282.25 L1682.08,279.77 L1683.12,277.33 L1684.15,274.94 L1685.19,272.61 L1686.22,270.32 L1687.26,268.08 L1688.29,265.90 L1689.33,263.76 L1690.36,261.68 L1691.40,259.65 L1692.43,257.68 L1693.47,255.76 L1694.51,253.89 L1695.54,252.08 L1696.58,250.32 L1697.61,248.62 L1698.65,246.97 L1699.68,245.38 L1700.72,243.85 L1701.75,242.37 L1702.79,240.96 L1703.82,239.59 L1704.86,238.29 L1705.90,237.05 L1706.93,235.86 L1707.97,234.73 L1709.00,233.66 L1710.04,232.66 L1711.07,231.71 L1712.11,230.82 L1713.14,229.99 L1714.18,229.22 L1715.21,228.51 L1716.25,227.86 L1717.29,227.27 L1718.32,226.75 L1719.36,226.28 L1720.39,225.88 L1721.43,225.53 L1722.46,225.25 L1723.50,225.03 L1724.53,224.87 L1725.57,224.77 L1726.60,224.74 L1727.64,224.76 L1728.68,224.86 L1729.71,225.03 L1730.75,225.26 L1731.78,225.57 L1732.82,225.94 L1733.85,226.38 L1734.89,226.90 L1735.92,227.48 L1736.96,228.12 L1738.00,228.84 L1739.03,229.63 L1740.07,230.48 L1741.10,231.40 L1742.14,232.39 L1743.17,233.45 L1744.21,234.57 L1745.24,235.76 L1746.28,237.02 L1747.31,238.34 L1748.35,239.73 L1749.39,241.18 L1750.42,242.70 L1751.46,244.28 L1752.49,245.93 L1753.53,247.64 L1754.56,249.41 L1755.60,251.25 L1756.63,253.15 L1757.67,255.11 L1758.70,257.13 L1759.74,259.21 L1760.78,261.36 L1761.81,263.56 L1762.85,265.82 L1763.88,268.14 L1764.92,270.52 L1765.95,272.95 L1766.99,275.45 L1768.02,277.99 L1769.06,280.60 L1770.09,283.26 L1771.13,285.97 L1772.17,288.73 L1773.20,291.55 L1774.24,294.42 L1775.27,297.34 L1776.31,300.31 L1777.34,303.33 L1778.38,306.40 L1779.41,309.51 L1780.45,312.68 L1781.48,315.89 L1782.52,319.14 L1783.56,322.44 L1784.59,325.78 L1785.63,329.17 L1786.66,332.60 L1787.70,336.06 L1788.73,339.57 L1789.77,343.12 L1790.80,346.71 L1791.84,350.33 L1792.87,353.99 L1793.91,357.68 L1794.95,361.41 L1795.98,365.17 L1797.02,368.97 L1798.05,372.79 L1799.09,376.65 L1800.12,380.54 L1801.16,384.45 L1802.19,388.39 L1803.23,392.36 L1804.26,396.35 L1805.30,400.37 L1806.34,404.41 L1807.37,408.47 L1808.41,412.55 L1809.44,416.66 L1810.48,420.78 L1811.51,424.92 L1812.55,429.07 L1813.58,433.25 L1814.62,437.43 L1815.65,441.63 L1816.69,445.84 L1817.73,450.07 L1818.76,454.30 L1819.80,458.54 L1820.83,462.79 L1821.87,467.05 L1822.90,471.31 L1823.94,475.58 L1824.97,479.85 L1826.01,484.12 L1827.05,488.40" stroke="#0c4b14" stroke-width="8" stroke-dasharray="43 15 12 15"/>
<path d="M273.85,748.43 L274.37,748.47 L274.88,748.49 L275.40,748.50 L275.92,748.49 L276.44,748.47 L276.95,748.43 L277.47,748.37 L277.99,748.29 L278.51,748.20 L279.03,748.10 L279.54,747.97 L280.06,747.83 L280.58,747.67 L281.10,747.50 L281.61,747.31 L282.13,747.11 L282.65,746.88 L283.17,746.64 L283.69,746.39 L284.20,746.12 L284.72,745.83 L285.24,745.53 L285.76,745.21 L286.27,744.87 L286.79,744.52 L287.31,744.15 L287.83,743.76 L288.34,743.36 L288.86,742.94 L289.38,742.51 L289.90,742.06 L290.42,741.59 L290.93,741.11 L291.45,740.61 L291.97,740.09 L292.49,739.56 L293.00,739.02 L293.52,738.45 L294.04,737.88 L294.56,737.28 L295.08,736.67 L295.59,736.05 L296.11,735.40 L296.63,734.75 L297.15,734.07 L297.66,733.39 L298.18,732.68 L298.70,731.96 L299.22,731.23 L299.73,730.48 L300.25,729.71 L300.77,728.93 L301.29,728.15 L301.81,727.36 L302.32,726.56 L302.84,725.76 L303.36,724.95 L303.88,724.14 L304.39,723.32 L304.91,722.50 L305.43,721.67 L305.95,720.85 L306.47,720.02 L306.98,719.19 L307.50,718.36 L308.02,717.53 L308.54,716.69 L309.05,715.86 L309.57,715.03 L310.09,714.19 L310.61,713.36 L310.98,712.75 M326.31,685.46 L326.66,684.67 L327.17,683.45 L327.69,682.21 L328.21,680.96 L328.73,679.70 L329.25,678.43 L329.76,677.15 L330.28,675.86 L330.80,674.56 L331.32,673.25 L331.83,671.93 L332.35,670.60 L332.87,669.27 L333.39,667.92 L333.91,666.57 L334.42,665.21 L334.94,663.83 L335.46,662.45 L335.98,661.06 L336.49,659.67 L337.01,658.26 L337.53,656.85 L338.05,655.42 L338.56,653.99 L339.08,652.55 L339.60,651.10 L340.12,649.65 L340.64,648.19 L341.15,646.72 L341.67,645.24 L342.19,643.75 L342.71,642.26 L343.22,640.76 L343.74,639.25 L344.26,637.73 L344.78,636.21 L345.22,634.90 M354.90,605.10 L355.13,604.38 L355.65,602.73 L356.17,601.07 L356.69,599.40 L357.20,597.74 L357.72,596.06 L358.24,594.39 L358.76,592.70 L359.27,591.02 L359.79,589.33 L360.31,587.63 L360.83,585.93 L361.35,584.23 L361.86,582.52 L362.38,580.81 L362.90,579.09 L363.42,577.37 L363.93,575.65 L364.45,573.92 L364.97,572.19 L365.49,570.46 L366.00,568.72 L366.52,566.98 L367.04,565.24 L367.56,563.49 L368.08,561.74 L368.59,559.99 L369.11,558.24 L369.63,556.48 L370.15,554.72 L370.53,553.41 M379.30,523.34 L379.47,522.76 L379.98,520.98 L380.50,519.19 L381.02,517.41 L381.54,515.62 L382.05,513.83 L382.57,512.05 L383.09,510.26 L383.61,508.47 L384.13,506.69 L384.64,504.90 L385.16,503.12 L385.68,501.34 L386.20,499.55 L386.71,497.77 L387.23,495.99 L387.75,494.21 L388.27,492.43 L388.78,490.65 L389.30,488.88 L389.82,487.10 L390.34,485.33 L390.86,483.56 L391.37,481.79 L391.89,480.02 L392.41,478.26 L392.93,476.49 L393.44,474.73 L393.96,472.98 L394.40,471.49 M403.39,441.48 L403.80,440.15 L404.32,438.46 L404.83,436.77 L405.35,435.09 L405.87,433.41 L406.39,431.74 L406.91,430.07 L407.42,428.41 L407.94,426.76 L408.46,425.10 L408.98,423.46 L409.49,421.82 L410.01,420.18 L410.53,418.55 L411.05,416.93 L411.57,415.31 L412.08,413.69 L412.60,412.09 L413.12,410.49 L413.64,408.89 L414.15,407.30 L414.67,405.72 L415.19,404.15 L415.71,402.58 L416.22,401.01 L416.74,399.46 L417.26,397.91 L417.78,396.36 L418.30,394.83 L418.81,393.30 L419.33,391.78 L419.85,390.26 L419.92,390.07 M430.59,360.62 L430.72,360.28 L431.24,358.95 L431.76,357.62 L432.27,356.30 L432.79,355.00 L433.31,353.70 L433.83,352.41 L434.35,351.13 L434.86,349.87 L435.38,348.61 L435.90,347.36 L436.42,346.12 L436.93,344.89 L437.45,343.67 L437.97,342.46 L438.49,341.26 L439.00,340.07 L439.52,338.89 L440.04,337.72 L440.56,336.56 L441.08,335.41 L441.59,334.28 L442.11,333.15 L442.63,332.03 L443.15,330.93 L443.66,329.83 L444.18,328.75 L444.70,327.67 L445.22,326.61 L445.74,325.56 L446.25,324.52 L446.77,323.49 L447.29,322.47 L447.81,321.47 L448.32,320.47 L448.84,319.49 L449.36,318.51 L449.88,317.55 L450.40,316.60 L450.91,315.66 L451.43,314.74 L451.95,313.82 L452.47,312.92 L452.98,312.03 L453.21,311.65 M472.70,287.34 L473.18,286.98 L473.69,286.59 L474.21,286.22 L474.73,285.87 L475.25,285.52 L475.76,285.19 L476.28,284.88 L476.80,284.57 L477.32,284.28 L477.83,284.01 L478.35,283.75 L478.87,283.50 L479.39,283.26 L479.91,283.04 L480.42,282.83 L480.94,282.64 L481.46,282.45 L481.98,282.29 L482.49,282.13 L483.01,281.99 L483.53,281.87 L484.05,281.75 L484.57,281.65 L485.08,281.57 L485.60,281.50 L486.12,281.44 L486.64,281.39 L487.15,281.36 L487.67,281.34 L488.19,281.34 L488.71,281.35 L489.22,281.38 L489.74,281.42 L490.26,281.47 L490.78,281.54 L491.30,281.63 L491.81,281.73 L492.33,281.85 L492.85,281.98 L493.37,282.12 L493.88,282.29 L494.40,282.46 L494.92,282.65 L495.44,282.86 L495.96,283.08 L496.47,283.32 L496.99,283.57 L497.51,283.83 L498.03,284.12 L498.54,284.41 L499.06,284.72 L499.58,285.05 L500.10,285.39 L500.62,285.74 L501.13,286.11 L501.65,286.50 L502.17,286.90 L502.69,287.31 L503.20,287.74 L503.72,288.18 L504.24,288.64 L504.76,289.11 L505.27,289.60 L505.79,290.10 L506.31,290.62 L506.83,291.15 L507.35,291.69 L507.86,292.25 L508.38,292.83 L508.90,293.41 L509.42,294.02 L509.93,294.63 L510.45,295.26 L510.97,295.91 L511.49,296.57 L512.01,297.24 L512.52,297.92 L513.04,298.63 L513.56,299.34 L514.08,300.07 L514.59,300.81 L515.11,301.57 L515.63,302.33 L516.15,303.12 L516.28,303.32 M530.84,330.77 L531.16,331.48 L531.68,332.64 L532.20,333.81 L532.71,335.00 L533.23,336.19 L533.75,337.40 L534.27,338.62 L534.79,339.85 L535.30,341.09 L535.82,342.34 L536.34,343.61 L536.86,344.88 L537.37,346.16 L537.89,347.46 L538.41,348.76 L538.93,350.08 L539.44,351.41 L539.96,352.74 L540.48,354.09 L541.00,355.45 L541.52,356.81 L542.03,358.19 L542.55,359.57 L543.07,360.97 L543.59,362.37 L544.10,363.79 L544.62,365.21 L545.14,366.65 L545.66,368.09 L546.18,369.54 L546.69,371.00 L547.21,372.47 L547.73,373.95 L548.25,375.44 L548.76,376.93 L549.28,378.44 L549.80,379.95 L550.21,381.16 M559.83,410.74 L560.15,411.78 L560.67,413.44 L561.19,415.11 L561.71,416.78 L562.23,418.46 L562.74,420.15 L563.26,421.84 L563.78,423.53 L564.30,425.24 L564.81,426.94 L565.33,428.65 L565.85,430.37 L566.37,432.09 L566.88,433.82 L567.40,435.55 L567.92,437.28 L568.44,439.02 L568.96,440.76 L569.47,442.51 L569.99,444.26 L570.51,446.02 L571.03,447.78 L571.54,449.54 L572.06,451.30 L572.58,453.07 L573.10,454.84 L573.62,456.62 L574.13,458.40 L574.65,460.18 L575.17,461.96 L575.32,462.47 M583.91,492.37 L583.97,492.57 L584.49,494.38 L585.01,496.19 L585.52,498.00 L586.04,499.81 L586.56,501.62 L587.08,503.43 L587.59,505.24 L588.11,507.05 L588.63,508.86 L589.15,510.67 L589.67,512.48 L590.18,514.28 L590.70,516.09 L591.22,517.89 L591.74,519.70 L592.25,521.50 L592.77,523.30 L593.29,525.10 L593.81,526.90 L594.32,528.69 L594.84,530.48 L595.36,532.27 L595.88,534.06 L596.40,535.85 L596.91,537.63 L597.43,539.41 L597.95,541.19 L598.47,542.96 L598.85,544.26 M607.73,574.07 L607.79,574.27 L608.30,575.97 L608.82,577.66 L609.34,579.35 L609.86,581.03 L610.37,582.70 L610.89,584.37 L611.41,586.03 L611.93,587.69 L612.45,589.34 L612.96,590.98 L613.48,592.62 L614.00,594.25 L614.52,595.87 L615.03,597.49 L615.55,599.10 L616.07,600.71 L616.59,602.30 L617.10,603.89 L617.62,605.47 L618.14,607.05 L618.66,608.62 L619.18,610.18 L619.69,611.73 L620.21,613.27 L620.73,614.81 L621.25,616.34 L621.76,617.86 L622.28,619.37 L622.80,620.88 L623.32,622.37 L623.84,623.86 L624.35,625.34 L624.39,625.43 M635.36,654.54 L635.74,655.46 L636.26,656.71 L636.78,657.96 L637.30,659.19 L637.81,660.40 L638.33,661.61 L638.85,662.81 L639.37,663.99 L639.89,665.17 L640.40,666.33 L640.92,667.48 L641.44,668.62 L641.96,669.75 L642.47,670.86 L642.99,671.96 L643.51,673.06 L644.03,674.14 L644.54,675.20 L645.06,676.26 L645.58,677.30 L646.10,678.33 L646.62,679.35 L647.13,680.35 L647.65,681.35 L648.17,682.33 L648.69,683.29 L649.20,684.25 L649.72,685.19 L650.24,686.12 L650.76,687.04 L651.28,687.94 L651.79,688.83 L652.31,689.71 L652.83,690.57 L653.35,691.42 L653.86,692.26 L654.38,693.08 L654.90,693.89 L655.42,694.69 L655.93,695.47 L656.45,696.24 L656.97,696.99 L657.49,697.73 L658.01,698.46 L658.52,699.18 L659.04,699.88 L659.56,700.56 L660.08,701.24 L660.59,701.90 L660.71,702.03 M686.70,716.21 L687.00,716.16 L687.52,716.07 L688.03,715.96 L688.55,715.84 L689.07,715.71 L689.59,715.56 L690.11,715.40 L690.62,715.23 L691.14,715.04 L691.66,714.84 L692.18,714.63 L692.69,714.41 L693.21,714.17 L693.73,713.92 L694.25,713.66 L694.76,713.39 L695.28,713.10 L695.80,712.80 L696.32,712.48 L696.84,712.16 L697.35,711.82 L697.87,711.47 L698.39,711.10 L698.91,710.73 L699.42,710.34 L699.94,709.94 L700.46,709.52 L700.98,709.09 L701.50,708.65 L702.01,708.20 L702.53,707.74 L703.05,707.26 L703.57,706.77 L704.08,706.27 L704.60,705.75 L705.12,705.22 L705.64,704.68 L706.15,704.13 L706.67,703.57 L707.19,702.99 L707.71,702.40 L708.23,701.80 L708.74,701.19 L709.26,700.57 L709.78,699.93 L710.30,699.28 L710.81,698.62 L711.33,697.95 L711.85,697.26 L712.37,696.56 L712.89,695.86 L713.40,695.14 L713.92,694.40 L714.44,693.66 L714.96,692.90 L715.47,692.14 L715.99,691.36 L716.51,690.57 L717.03,689.77 L717.54,688.95 L718.06,688.13 L718.58,687.29 L719.10,686.44 L719.62,685.59 L720.13,684.72 L720.65,683.84 L721.17,682.94 L721.69,682.04 L722.20,681.13 L722.72,680.20 L723.24,679.26 L723.45,678.89 M736.98,650.63 L737.22,650.07 L737.74,648.85 L738.25,647.63 L738.77,646.39 L739.29,645.14 L739.81,643.89 L740.33,642.63 L740.84,641.36 L741.36,640.08 L741.88,638.79 L742.40,637.49 L742.91,636.18 L743.43,634.87 L743.95,633.54 L744.47,632.21 L744.98,630.87 L745.50,629.53 L746.02,628.17 L746.54,626.81 L747.06,625.44 L747.57,624.06 L748.09,622.67 L748.61,621.28 L749.13,619.87 L749.64,618.46 L750.16,617.05 L750.68,615.62 L751.20,614.19 L751.72,612.75 L752.23,611.31 L752.75,609.85 L753.27,608.39 L753.79,606.93 L754.30,605.45 L754.82,603.97 L755.34,602.49 L755.86,600.99 L756.14,600.16 M766.04,570.43 L766.21,569.90 L766.73,568.29 L767.25,566.67 L767.76,565.06 L768.28,563.43 L768.80,561.80 L769.32,560.17 L769.84,558.54 L770.35,556.90 L770.87,555.25 L771.39,553.61 L771.91,551.96 L772.42,550.30 L772.94,548.64 L773.46,546.98 L773.98,545.32 L774.50,543.65 L775.01,541.98 L775.53,540.30 L776.05,538.62 L776.57,536.94 L777.08,535.26 L777.60,533.57 L778.12,531.89 L778.64,530.20 L779.15,528.50 L779.67,526.81 L780.19,525.11 L780.71,523.41 L781.23,521.71 L781.74,520.00 L782.09,518.87 M791.14,488.86 L791.58,487.39 L792.10,485.67 L792.62,483.95 L793.13,482.23 L793.65,480.51 L794.17,478.78 L794.69,477.06 L795.20,475.34 L795.72,473.63 L796.24,471.91 L796.76,470.19 L797.28,468.47 L797.79,466.76 L798.31,465.05 L798.83,463.33 L799.35,461.62 L799.86,459.91 L800.38,458.20 L800.90,456.50 L801.42,454.79 L801.94,453.09 L802.45,451.39 L802.97,449.69 L803.49,447.99 L804.01,446.30 L804.52,444.61 L805.04,442.92 L805.56,441.23 L806.08,439.55 L806.59,437.86 L806.80,437.18 M816.20,407.29 L816.43,406.56 L816.95,404.96 L817.47,403.35 L817.98,401.76 L818.50,400.16 L819.02,398.58 L819.54,396.99 L820.06,395.42 L820.57,393.84 L821.09,392.28 L821.61,390.72 L822.13,389.16 L822.64,387.61 L823.16,386.07 L823.68,384.53 L824.20,383.00 L824.72,381.47 L825.23,379.95 L825.75,378.43 L826.27,376.92 L826.79,375.42 L827.30,373.93 L827.82,372.44 L828.34,370.95 L828.86,369.48 L829.38,368.01 L829.89,366.55 L830.41,365.09 L830.93,363.64 L831.45,362.20 L831.96,360.77 L832.48,359.34 L833.00,357.92 L833.52,356.51 L833.64,356.18 M845.09,327.02 L845.42,326.23 L845.94,325.02 L846.46,323.82 L846.98,322.62 L847.50,321.44 L848.01,320.26 L848.53,319.10 L849.05,317.94 L849.57,316.79 L850.08,315.66 L850.60,314.53 L851.12,313.41 L851.64,312.31 L852.16,311.21 L852.67,310.12 L853.19,309.05 L853.71,307.98 L854.23,306.92 L854.74,305.88 L855.26,304.84 L855.78,303.81 L856.30,302.80 L856.81,301.79 L857.33,300.80 L857.85,299.82 L858.37,298.84 L858.89,297.88 L859.40,296.93 L859.92,295.99 L860.44,295.06 L860.96,294.14 L861.47,293.23 L861.99,292.34 L862.51,291.45 L863.03,290.58 L863.55,289.71 L864.06,288.86 L864.58,288.02 L865.10,287.19 L865.62,286.37 L866.13,285.57 L866.65,284.77 L867.17,283.99 L867.69,283.22 L868.20,282.46 L868.72,281.71 L869.24,280.97 L869.76,280.25 L870.28,279.53 L870.36,279.42 M894.20,260.00 L894.61,259.90 L895.13,259.79 L895.64,259.69 L896.16,259.60 L896.68,259.53 L897.20,259.47 L897.72,259.42 L898.23,259.39 L898.75,259.37 L899.27,259.36 L899.79,259.36 L900.30,259.38 L900.82,259.41 L901.34,259.46 L901.86,259.53 L902.38,259.61 L902.89,259.70 L903.41,259.81 L903.93,259.93 L904.45,260.07 L904.96,260.23 L905.48,260.40 L906.00,260.58 L906.52,260.78 L907.03,260.99 L907.55,261.22 L908.07,261.46 L908.59,261.72 L909.11,261.99 L909.62,262.28 L910.14,262.58 L910.66,262.90 L911.18,263.23 L911.69,263.57 L912.21,263.93 L912.73,264.31 L913.25,264.70 L913.77,265.10 L914.28,265.52 L914.80,265.95 L915.32,266.40 L915.84,266.86 L916.35,267.34 L916.87,267.83 L917.39,268.34 L917.91,268.86 L918.42,269.39 L918.94,269.94 L919.46,270.50 L919.98,271.08 L920.50,271.67 L921.01,272.27 L921.53,272.89 L922.05,273.53 L922.57,274.17 L923.08,274.83 L923.60,275.51 L924.12,276.20 L924.64,276.90 L925.16,277.62 L925.67,278.35 L926.19,279.09 L926.71,279.85 L927.23,280.62 L927.74,281.40 L928.26,282.20 L928.78,283.01 L929.30,283.84 L929.82,284.67 L930.33,285.52 L930.85,286.39 L931.37,287.27 L931.89,288.16 L932.40,289.06 L932.92,289.98 L933.44,290.91 L933.60,291.20 M946.89,319.35 L946.90,319.38 L947.42,320.63 L947.94,321.89 L948.45,323.16 L948.97,324.45 L949.49,325.74 L950.01,327.05 L950.52,328.36 L951.04,329.69 L951.56,331.02 L952.08,332.37 L952.60,333.73 L953.11,335.09 L953.63,336.47 L954.15,337.85 L954.67,339.25 L955.18,340.65 L955.70,342.07 L956.22,343.49 L956.74,344.93 L957.25,346.37 L957.77,347.82 L958.29,349.28 L958.81,350.75 L959.33,352.23 L959.84,353.72 L960.36,355.22 L960.88,356.72 L961.40,358.23 L961.91,359.76 L962.43,361.29 L962.95,362.82 L963.47,364.37 L963.99,365.93 L964.50,367.49 L965.02,369.06 L965.36,370.08 M974.73,399.79 L974.86,400.22 L975.38,401.92 L975.89,403.63 L976.41,405.34 L976.93,407.06 L977.45,408.78 L977.96,410.51 L978.48,412.24 L979.00,413.98 L979.52,415.72 L980.04,417.47 L980.55,419.22 L981.07,420.98 L981.59,422.74 L982.11,424.51 L982.62,426.27 L983.14,428.05 L983.66,429.82 L984.18,431.60 L984.69,433.39 L985.21,435.17 L985.73,436.96 L986.25,438.76 L986.77,440.55 L987.28,442.35 L987.80,444.15 L988.32,445.96 L988.84,447.76 L989.35,449.57 L989.87,451.39 L989.94,451.61 M998.44,481.58 L998.67,482.42 L999.19,484.26 L999.71,486.09 L1000.23,487.92 L1000.74,489.75 L1001.26,491.59 L1001.78,493.42 L1002.30,495.25 L1002.82,497.08 L1003.33,498.91 L1003.85,500.74 L1004.37,502.56 L1004.89,504.39 L1005.40,506.21 L1005.92,508.04 L1006.44,509.86 L1006.96,511.68 L1007.47,513.50 L1007.99,515.32 L1008.51,517.13 L1009.03,518.94 L1009.55,520.75 L1010.06,522.56 L1010.58,524.36 L1011.10,526.17 L1011.62,527.97 L1012.13,529.76 L1012.65,531.56 L1013.17,533.35 L1013.22,533.52 M1022.03,563.40 L1022.49,564.91 L1023.01,566.62 L1023.52,568.32 L1024.04,570.02 L1024.56,571.71 L1025.08,573.40 L1025.60,575.08 L1026.11,576.75 L1026.63,578.42 L1027.15,580.08 L1027.67,581.74 L1028.18,583.39 L1028.70,585.03 L1029.22,586.67 L1029.74,588.30 L1030.26,589.92 L1030.77,591.54 L1031.29,593.14 L1031.81,594.75 L1032.33,596.34 L1032.84,597.93 L1033.36,599.51 L1033.88,601.08 L1034.40,602.64 L1034.91,604.20 L1035.43,605.74 L1035.95,607.28 L1036.47,608.82 L1036.99,610.34 L1037.50,611.85 L1038.02,613.36 L1038.52,614.81 M1049.35,644.02 L1049.41,644.17 L1049.93,645.46 L1050.45,646.73 L1050.96,648.00 L1051.48,649.25 L1052.00,650.49 L1052.52,651.73 L1053.04,652.95 L1053.55,654.16 L1054.07,655.35 L1054.59,656.54 L1055.11,657.72 L1055.62,658.88 L1056.14,660.03 L1056.66,661.17 L1057.18,662.30 L1057.69,663.42 L1058.21,664.53 L1058.73,665.62 L1059.25,666.70 L1059.77,667.77 L1060.28,668.83 L1060.80,669.87 L1061.32,670.90 L1061.84,671.92 L1062.35,672.93 L1062.87,673.93 L1063.39,674.91 L1063.91,675.88 L1064.43,676.84 L1064.94,677.78 L1065.46,678.71 L1065.98,679.63 L1066.50,680.54 L1067.01,681.43 L1067.53,682.31 L1068.05,683.18 L1068.57,684.03 L1069.09,684.87 L1069.60,685.70 L1070.12,686.52 L1070.64,687.32 L1071.16,688.10 L1071.67,688.88 L1072.19,689.64 L1072.71,690.38 L1073.23,691.12 L1073.74,691.83 L1073.86,691.99 M1098.40,709.50 L1098.60,709.51 L1099.11,709.52 L1099.63,709.51 L1100.15,709.49 L1100.67,709.46 L1101.18,709.41 L1101.70,709.36 L1102.22,709.29 L1102.74,709.20 L1103.26,709.10 L1103.77,709.00 L1104.29,708.87 L1104.81,708.74 L1105.33,708.59 L1105.84,708.43 L1106.36,708.25 L1106.88,708.07 L1107.40,707.87 L1107.91,707.65 L1108.43,707.43 L1108.95,707.19 L1109.47,706.94 L1109.99,706.67 L1110.50,706.40 L1111.02,706.11 L1111.54,705.81 L1112.06,705.49 L1112.57,705.16 L1113.09,704.82 L1113.61,704.47 L1114.13,704.10 L1114.65,703.72 L1115.16,703.33 L1115.68,702.93 L1116.20,702.51 L1116.72,702.09 L1117.23,701.64 L1117.75,701.19 L1118.27,700.72 L1118.79,700.25 L1119.31,699.76 L1119.82,699.25 L1120.34,698.74 L1120.86,698.21 L1121.38,697.67 L1121.89,697.12 L1122.41,696.55 L1122.93,695.97 L1123.45,695.39 L1123.96,694.78 L1124.48,694.17 L1125.00,693.55 L1125.52,692.91 L1126.04,692.26 L1126.55,691.60 L1127.07,690.92 L1127.59,690.24 L1128.11,689.54 L1128.62,688.83 L1129.14,688.11 L1129.66,687.38 L1130.18,686.64 L1130.70,685.88 L1131.21,685.11 L1131.73,684.34 L1132.25,683.55 L1132.77,682.74 L1133.28,681.93 L1133.80,681.11 L1134.32,680.27 L1134.84,679.42 L1135.35,678.57 L1135.87,677.70 L1136.39,676.82 L1136.91,675.92 L1137.19,675.43 M1150.98,647.66 L1151.40,646.69 L1151.92,645.50 L1152.44,644.31 L1152.96,643.10 L1153.48,641.88 L1153.99,640.66 L1154.51,639.43 L1155.03,638.18 L1155.55,636.93 L1156.06,635.67 L1156.58,634.40 L1157.10,633.13 L1157.62,631.84 L1158.13,630.54 L1158.65,629.24 L1159.17,627.93 L1159.69,626.61 L1160.21,625.28 L1160.72,623.95 L1161.24,622.60 L1161.76,621.25 L1162.28,619.89 L1162.79,618.52 L1163.31,617.15 L1163.83,615.76 L1164.35,614.37 L1164.87,612.97 L1165.38,611.57 L1165.90,610.16 L1166.42,608.74 L1166.94,607.31 L1167.45,605.87 L1167.97,604.43 L1168.49,602.98 L1169.01,601.53 L1169.53,600.06 L1170.04,598.60 L1170.49,597.33 M1180.40,567.94 L1180.92,566.35 L1181.43,564.76 L1181.95,563.16 L1182.47,561.56 L1182.99,559.95 L1183.50,558.34 L1184.02,556.72 L1184.54,555.10 L1185.06,553.47 L1185.57,551.84 L1186.09,550.21 L1186.61,548.57 L1187.13,546.93 L1187.65,545.29 L1188.16,543.64 L1188.68,541.99 L1189.20,540.33 L1189.72,538.68 L1190.23,537.01 L1190.75,535.35 L1191.27,533.68 L1191.79,532.01 L1192.31,530.34 L1192.82,528.66 L1193.34,526.99 L1193.86,525.30 L1194.38,523.62 L1194.89,521.94 L1195.41,520.25 L1195.93,518.56 L1196.45,516.87 L1196.58,516.42 M1205.59,486.75 L1205.77,486.17 L1206.28,484.46 L1206.80,482.74 L1207.32,481.03 L1207.84,479.32 L1208.36,477.61 L1208.87,475.89 L1209.39,474.18 L1209.91,472.47 L1210.43,470.76 L1210.94,469.05 L1211.46,467.34 L1211.98,465.63 L1212.50,463.93 L1213.01,462.22 L1213.53,460.51 L1214.05,458.81 L1214.57,457.11 L1215.09,455.41 L1215.60,453.71 L1216.12,452.01 L1216.64,450.31 L1217.16,448.62 L1217.67,446.93 L1218.19,445.24 L1218.71,443.55 L1219.23,441.86 L1219.75,440.18 L1220.26,438.50 L1220.78,436.82 L1221.30,435.15 L1221.32,435.09 M1230.63,405.51 L1231.14,403.93 L1231.65,402.33 L1232.17,400.73 L1232.69,399.13 L1233.21,397.54 L1233.72,395.96 L1234.24,394.38 L1234.76,392.80 L1235.28,391.23 L1235.79,389.67 L1236.31,388.11 L1236.83,386.56 L1237.35,385.01 L1237.87,383.47 L1238.38,381.93 L1238.90,380.40 L1239.42,378.87 L1239.94,377.35 L1240.45,375.84 L1240.97,374.33 L1241.49,372.83 L1242.01,371.34 L1242.53,369.85 L1243.04,368.37 L1243.56,366.89 L1244.08,365.42 L1244.60,363.96 L1245.11,362.50 L1245.63,361.05 L1246.15,359.61 L1246.67,358.18 L1247.18,356.75 L1247.70,355.33 L1248.05,354.40 M1259.32,325.51 L1259.61,324.83 L1260.13,323.60 L1260.65,322.39 L1261.16,321.18 L1261.68,319.98 L1262.20,318.80 L1262.72,317.62 L1263.23,316.45 L1263.75,315.29 L1264.27,314.14 L1264.79,313.00 L1265.31,311.87 L1265.82,310.75 L1266.34,309.63 L1266.86,308.53 L1267.38,307.44 L1267.89,306.36 L1268.41,305.29 L1268.93,304.23 L1269.45,303.18 L1269.97,302.14 L1270.48,301.11 L1271.00,300.09 L1271.52,299.08 L1272.04,298.08 L1272.55,297.09 L1273.07,296.11 L1273.59,295.14 L1274.11,294.19 L1274.62,293.24 L1275.14,292.30 L1275.66,291.38 L1276.18,290.47 L1276.70,289.56 L1277.21,288.67 L1277.73,287.79 L1278.25,286.92 L1278.77,286.06 L1279.28,285.22 L1279.80,284.38 L1280.32,283.56 L1280.84,282.74 L1281.36,281.94 L1281.87,281.15 L1282.39,280.37 L1282.91,279.61 L1283.43,278.85 L1283.94,278.11 L1284.23,277.71 M1307.00,257.33 L1307.24,257.24 L1307.76,257.06 L1308.28,256.90 L1308.80,256.75 L1309.31,256.62 L1309.83,256.50 L1310.35,256.39 L1310.87,256.29 L1311.38,256.21 L1311.90,256.14 L1312.42,256.08 L1312.94,256.03 L1313.45,256.00 L1313.97,255.98 L1314.49,255.97 L1315.01,255.98 L1315.53,256.00 L1316.04,256.04 L1316.56,256.10 L1317.08,256.17 L1317.60,256.25 L1318.11,256.35 L1318.63,256.46 L1319.15,256.59 L1319.67,256.74 L1320.19,256.90 L1320.70,257.07 L1321.22,257.26 L1321.74,257.47 L1322.26,257.69 L1322.77,257.93 L1323.29,258.18 L1323.81,258.44 L1324.33,258.72 L1324.84,259.02 L1325.36,259.33 L1325.88,259.66 L1326.40,260.00 L1326.92,260.36 L1327.43,260.73 L1327.95,261.11 L1328.47,261.51 L1328.99,261.93 L1329.50,262.36 L1330.02,262.81 L1330.54,263.27 L1331.06,263.74 L1331.58,264.23 L1332.09,264.74 L1332.61,265.26 L1333.13,265.79 L1333.65,266.34 L1334.16,266.90 L1334.68,267.48 L1335.20,268.07 L1335.72,268.68 L1336.23,269.30 L1336.75,269.94 L1337.27,270.58 L1337.79,271.25 L1338.31,271.93 L1338.82,272.62 L1339.34,273.33 L1339.86,274.05 L1340.38,274.78 L1340.89,275.53 L1341.41,276.29 L1341.93,277.07 L1342.45,277.86 L1342.97,278.66 L1343.48,279.48 L1344.00,280.31 L1344.52,281.16 L1345.04,282.01 L1345.55,282.89 L1346.07,283.77 L1346.59,284.67 L1347.11,285.58 L1347.30,285.93 M1360.90,314.54 L1361.09,315.00 L1361.60,316.25 L1362.12,317.52 L1362.64,318.80 L1363.16,320.09 L1363.67,321.39 L1364.19,322.71 L1364.71,324.03 L1365.23,325.36 L1365.75,326.71 L1366.26,328.06 L1366.78,329.42 L1367.30,330.80 L1367.82,332.19 L1368.33,333.58 L1368.85,334.99 L1369.37,336.40 L1369.89,337.83 L1370.41,339.26 L1370.92,340.71 L1371.44,342.16 L1371.96,343.62 L1372.48,345.10 L1372.99,346.58 L1373.51,348.07 L1374.03,349.57 L1374.55,351.08 L1375.06,352.60 L1375.58,354.12 L1376.10,355.66 L1376.62,357.20 L1377.14,358.76 L1377.65,360.32 L1378.17,361.89 L1378.69,363.46 L1379.21,365.05 L1379.29,365.30 M1388.74,395.54 L1389.04,396.54 L1389.56,398.26 L1390.08,399.99 L1390.60,401.73 L1391.11,403.46 L1391.63,405.21 L1392.15,406.96 L1392.67,408.71 L1393.19,410.47 L1393.70,412.24 L1394.22,414.00 L1394.74,415.78 L1395.26,417.56 L1395.77,419.34 L1396.29,421.12 L1396.81,422.91 L1397.33,424.71 L1397.84,426.51 L1398.36,428.31 L1398.88,430.12 L1399.40,431.93 L1399.92,433.74 L1400.43,435.55 L1400.95,437.37 L1401.47,439.20 L1401.99,441.02 L1402.50,442.85 L1403.02,444.68 L1403.54,446.51 L1403.79,447.40 M1412.33,477.91 L1412.34,477.94 L1412.86,479.80 L1413.38,481.66 L1413.89,483.51 L1414.41,485.37 L1414.93,487.23 L1415.45,489.09 L1415.97,490.94 L1416.48,492.80 L1417.00,494.65 L1417.52,496.51 L1418.04,498.36 L1418.55,500.21 L1419.07,502.07 L1419.59,503.91 L1420.11,505.76 L1420.63,507.61 L1421.14,509.45 L1421.66,511.30 L1422.18,513.14 L1422.70,514.98 L1423.21,516.82 L1423.73,518.65 L1424.25,520.48 L1424.77,522.31 L1425.28,524.14 L1425.80,525.96 L1426.32,527.78 L1426.84,529.60 L1426.92,529.91 M1435.76,560.33 L1436.16,561.66 L1436.67,563.40 L1437.19,565.13 L1437.71,566.85 L1438.23,568.57 L1438.75,570.29 L1439.26,572.00 L1439.78,573.70 L1440.30,575.39 L1440.82,577.08 L1441.33,578.77 L1441.85,580.44 L1442.37,582.11 L1442.89,583.78 L1443.41,585.43 L1443.92,587.08 L1444.44,588.72 L1444.96,590.36 L1445.48,591.99 L1445.99,593.61 L1446.51,595.22 L1447.03,596.83 L1447.55,598.42 L1448.07,600.01 L1448.58,601.60 L1449.10,603.17 L1449.62,604.74 L1450.14,606.29 L1450.65,607.84 L1451.17,609.38 L1451.69,610.91 L1452.00,611.83 M1462.83,641.61 L1463.08,642.25 L1463.60,643.56 L1464.11,644.85 L1464.63,646.14 L1465.15,647.41 L1465.67,648.68 L1466.19,649.93 L1466.70,651.17 L1467.22,652.40 L1467.74,653.62 L1468.26,654.82 L1468.77,656.02 L1469.29,657.20 L1469.81,658.37 L1470.33,659.53 L1470.85,660.68 L1471.36,661.82 L1471.88,662.94 L1472.40,664.05 L1472.92,665.15 L1473.43,666.24 L1473.95,667.31 L1474.47,668.37 L1474.99,669.42 L1475.50,670.46 L1476.02,671.48 L1476.54,672.49 L1477.06,673.49 L1477.58,674.48 L1478.09,675.45 L1478.61,676.41 L1479.13,677.36 L1479.65,678.29 L1480.16,679.21 L1480.68,680.12 L1481.20,681.01 L1481.72,681.89 L1482.24,682.76 L1482.75,683.61 L1483.27,684.45 L1483.79,685.28 L1484.31,686.09 L1484.82,686.89 L1485.34,687.67 L1485.86,688.44 L1486.38,689.20 L1486.83,689.85 M1511.30,708.40 L1511.75,708.43 L1512.26,708.45 L1512.78,708.45 L1513.30,708.44 L1513.82,708.41 L1514.33,708.37 L1514.85,708.32 L1515.37,708.26 L1515.89,708.18 L1516.41,708.09 L1516.92,707.98 L1517.44,707.86 L1517.96,707.73 L1518.48,707.59 L1518.99,707.43 L1519.51,707.26 L1520.03,707.07 L1520.55,706.87 L1521.07,706.66 L1521.58,706.44 L1522.10,706.20 L1522.62,705.95 L1523.14,705.68 L1523.65,705.41 L1524.17,705.12 L1524.69,704.81 L1525.21,704.50 L1525.72,704.17 L1526.24,703.82 L1526.76,703.47 L1527.28,703.10 L1527.80,702.72 L1528.31,702.32 L1528.83,701.92 L1529.35,701.49 L1529.87,701.06 L1530.38,700.61 L1530.90,700.16 L1531.42,699.68 L1531.94,699.20 L1532.46,698.70 L1532.97,698.19 L1533.49,697.67 L1534.01,697.13 L1534.53,696.58 L1535.04,696.02 L1535.56,695.45 L1536.08,694.86 L1536.60,694.26 L1537.11,693.65 L1537.63,693.03 L1538.15,692.39 L1538.67,691.74 L1539.19,691.08 L1539.70,690.41 L1540.22,689.72 L1540.74,689.02 L1541.26,688.31 L1541.77,687.59 L1542.29,686.86 L1542.81,686.11 L1543.33,685.35 L1543.85,684.58 L1544.36,683.80 L1544.88,683.00 L1545.40,682.20 L1545.92,681.38 L1546.43,680.55 L1546.95,679.71 L1547.47,678.86 L1547.99,677.99 L1548.51,677.12 L1549.02,676.23 L1549.54,675.33 L1550.02,674.48 M1563.84,646.21 L1564.04,645.76 L1564.55,644.55 L1565.07,643.34 L1565.59,642.11 L1566.11,640.88 L1566.63,639.64 L1567.14,638.39 L1567.66,637.13 L1568.18,635.86 L1568.70,634.58 L1569.21,633.29 L1569.73,631.99 L1570.25,630.69 L1570.77,629.37 L1571.29,628.05 L1571.80,626.72 L1572.32,625.38 L1572.84,624.03 L1573.36,622.67 L1573.87,621.30 L1574.39,619.93 L1574.91,618.55 L1575.43,617.16 L1575.94,615.76 L1576.46,614.36 L1576.98,612.94 L1577.50,611.52 L1578.02,610.09 L1578.53,608.66 L1579.05,607.21 L1579.57,605.76 L1580.09,604.30 L1580.60,602.84 L1581.12,601.36 L1581.64,599.88 L1582.16,598.40 L1582.68,596.90 L1583.07,595.76 M1592.99,565.87 L1593.03,565.73 L1593.55,564.12 L1594.07,562.50 L1594.58,560.87 L1595.10,559.24 L1595.62,557.60 L1596.14,555.96 L1596.65,554.32 L1597.17,552.67 L1597.69,551.02 L1598.21,549.36 L1598.73,547.70 L1599.24,546.04 L1599.76,544.37 L1600.28,542.70 L1600.80,541.02 L1601.31,539.34 L1601.83,537.66 L1602.35,535.98 L1602.87,534.29 L1603.38,532.59 L1603.90,530.90 L1604.42,529.20 L1604.94,527.50 L1605.46,525.80 L1605.97,524.09 L1606.49,522.38 L1607.01,520.67 L1607.53,518.96 L1608.04,517.25 L1608.56,515.53 L1608.94,514.28 M1617.96,484.12 L1618.40,482.64 L1618.92,480.91 L1619.43,479.17 L1619.95,477.43 L1620.47,475.70 L1620.99,473.96 L1621.51,472.22 L1622.02,470.49 L1622.54,468.75 L1623.06,467.02 L1623.58,465.29 L1624.09,463.55 L1624.61,461.82 L1625.13,460.09 L1625.65,458.36 L1626.16,456.64 L1626.68,454.91 L1627.20,453.19 L1627.72,451.47 L1628.24,449.74 L1628.75,448.03 L1629.27,446.31 L1629.79,444.59 L1630.31,442.88 L1630.82,441.17 L1631.34,439.46 L1631.86,437.76 L1632.38,436.06 L1632.90,434.36 L1633.41,432.66 L1633.49,432.40 M1642.85,402.33 L1643.25,401.08 L1643.77,399.46 L1644.29,397.84 L1644.80,396.23 L1645.32,394.63 L1645.84,393.03 L1646.36,391.43 L1646.87,389.84 L1647.39,388.26 L1647.91,386.68 L1648.43,385.10 L1648.95,383.54 L1649.46,381.97 L1649.98,380.42 L1650.50,378.87 L1651.02,377.32 L1651.53,375.79 L1652.05,374.25 L1652.57,372.73 L1653.09,371.21 L1653.60,369.70 L1654.12,368.19 L1654.64,366.69 L1655.16,365.20 L1655.68,363.72 L1656.19,362.24 L1656.71,360.77 L1657.23,359.30 L1657.75,357.85 L1658.26,356.40 L1658.78,354.95 L1659.30,353.52 L1659.82,352.09 L1660.15,351.18 M1671.59,321.85 L1671.73,321.54 L1672.24,320.31 L1672.76,319.10 L1673.28,317.90 L1673.80,316.71 L1674.31,315.52 L1674.83,314.35 L1675.35,313.19 L1675.87,312.03 L1676.38,310.89 L1676.90,309.75 L1677.42,308.63 L1677.94,307.52 L1678.46,306.41 L1678.97,305.32 L1679.49,304.24 L1680.01,303.17 L1680.53,302.11 L1681.04,301.05 L1681.56,300.01 L1682.08,298.98 L1682.60,297.97 L1683.12,296.96 L1683.63,295.96 L1684.15,294.97 L1684.67,294.00 L1685.19,293.04 L1685.70,292.08 L1686.22,291.14 L1686.74,290.21 L1687.26,289.29 L1687.78,288.38 L1688.29,287.49 L1688.81,286.60 L1689.33,285.73 L1689.85,284.87 L1690.36,284.01 L1690.88,283.18 L1691.40,282.35 L1691.92,281.53 L1692.43,280.73 L1692.95,279.94 L1693.47,279.16 L1693.99,278.39 L1694.51,277.63 L1695.02,276.89 L1695.54,276.16 L1696.06,275.44 L1696.58,274.73 L1696.91,274.29 M1721.40,255.70 L1721.43,255.70 L1721.95,255.62 L1722.46,255.56 L1722.98,255.51 L1723.50,255.47 L1724.02,255.45 L1724.53,255.44 L1725.05,255.44 L1725.57,255.46 L1726.09,255.50 L1726.60,255.55 L1727.12,255.61 L1727.64,255.69 L1728.16,255.78 L1728.68,255.89 L1729.19,256.01 L1729.71,256.14 L1730.23,256.30 L1730.75,256.46 L1731.26,256.64 L1731.78,256.84 L1732.30,257.05 L1732.82,257.27 L1733.34,257.51 L1733.85,257.76 L1734.37,258.03 L1734.89,258.31 L1735.41,258.61 L1735.92,258.92 L1736.44,259.25 L1736.96,259.59 L1737.48,259.94 L1738.00,260.31 L1738.51,260.69 L1739.03,261.09 L1739.55,261.50 L1740.07,261.93 L1740.58,262.37 L1741.10,262.82 L1741.62,263.29 L1742.14,263.78 L1742.65,264.27 L1743.17,264.78 L1743.69,265.31 L1744.21,265.85 L1744.73,266.40 L1745.24,266.97 L1745.76,267.55 L1746.28,268.15 L1746.80,268.76 L1747.31,269.38 L1747.83,270.02 L1748.35,270.67 L1748.87,271.33 L1749.39,272.01 L1749.90,272.70 L1750.42,273.40 L1750.94,274.12 L1751.46,274.86 L1751.97,275.60 L1752.49,276.36 L1753.01,277.13 L1753.53,277.92 L1754.04,278.72 L1754.56,279.53 L1755.08,280.35 L1755.60,281.19 L1756.12,282.04 L1756.63,282.91 L1757.15,283.78 L1757.67,284.67 L1758.19,285.57 L1758.70,286.49 L1759.22,287.42 L1759.74,288.36 L1759.99,288.83 M1773.14,316.88 L1773.20,317.02 L1773.72,318.27 L1774.24,319.54 L1774.75,320.82 L1775.27,322.10 L1775.79,323.40 L1776.31,324.71 L1776.82,326.03 L1777.34,327.35 L1777.86,328.69 L1778.38,330.04 L1778.90,331.40 L1779.41,332.76 L1779.93,334.14 L1780.45,335.53 L1780.97,336.92 L1781.48,338.33 L1782.00,339.75 L1782.52,341.17 L1783.04,342.60 L1783.56,344.04 L1784.07,345.50 L1784.59,346.96 L1785.11,348.42 L1785.63,349.90 L1786.14,351.39 L1786.66,352.88 L1787.18,354.38 L1787.70,355.90 L1788.22,357.42 L1788.73,358.94 L1789.25,360.48 L1789.77,362.02 L1790.29,363.57 L1790.80,365.13 L1791.32,366.70 L1791.62,367.61 M1800.98,397.17 L1801.16,397.75 L1801.68,399.45 L1802.19,401.15 L1802.71,402.86 L1803.23,404.57 L1803.75,406.28 L1804.26,408.01 L1804.78,409.73 L1805.30,411.46 L1805.82,413.20 L1806.34,414.94 L1806.85,416.68 L1807.37,418.43 L1807.89,420.18 L1808.41,421.94 L1808.92,423.70 L1809.44,425.46 L1809.96,427.23 L1810.48,429.00 L1811.00,430.78 L1811.51,432.56 L1812.03,434.34 L1812.55,436.12 L1813.07,437.91 L1813.58,439.70 L1814.10,441.49 L1814.62,443.29 L1815.14,445.09 L1815.65,446.89 L1816.17,448.69 L1816.25,448.96 M1824.75,478.77 L1824.97,479.57 L1825.49,481.39 L1826.01,483.22 L1826.53,485.04 L1827.05,486.86" stroke="#0000ff" stroke-width="8"/>
</g>
<rect x="475" y="70.1" width="1450" height="99.7" fill="#262626"/>
<rect x="478.8" y="74.7" width="1441.2" height="91.4" fill="#ffffff"/>
<g shape-rendering="crispEdges">
<rect x="519" y="111.1" width="214" height="14.7" fill="#999999"/>
<rect x="832" y="114" width="214" height="8" fill="#ff0000"/>
<rect x="1236" y="114" width="43" height="8" fill="#0c4b14"/>
<rect x="1294" y="114" width="12" height="8" fill="#0c4b14"/>
<rect x="1321" y="114" width="43" height="8" fill="#0c4b14"/>
<rect x="1379" y="114" width="12" height="8" fill="#0c4b14"/>
<rect x="1406" y="114" width="43" height="8" fill="#0c4b14"/>
<rect x="1578" y="114" width="54" height="8" fill="#0000ff"/>
<rect x="1663" y="114" width="54" height="8" fill="#0000ff"/>
<rect x="1748" y="114" width="43" height="8" fill="#0000ff"/>
</g>
<g font-family="'Liberation Serif', 'DejaVu Serif', serif" fill="#000000" font-size="51px">
<text x="752.5" y="130.7" font-style="italic" font-size="48px">θ<tspan x="777.1" y="138.2" font-size="37px">d</tspan></text>
<text x="1067.0 1103.8 1128.2 1166.4" y="130.2">CFAC</text>
<text x="1469.4 1508.2" y="130.2">NC</text>
<text x="1813.9 1846.5 1863.5" y="130.2">PID</text>
</g>
<g font-family="'Liberation Sans', 'DejaVu Sans', sans-serif" fill="#262626" font-size="69px">
<text x="243.6" y="244.1" text-anchor="end">-0.2</text>
<text x="243.6" y="422.1" text-anchor="end">-0.4</text>
<text x="243.6" y="600.1" text-anchor="end">-0.6</text>
<text x="243.6" y="778.1" text-anchor="end">-0.8</text>
<text x="273.1" y="940.2" text-anchor="middle">0</text>
<text x="790.8" y="940.2" text-anchor="middle">500</text>
<text x="1309.2" y="940.2" text-anchor="middle">1000</text>
<text x="1826.4" y="940.2" text-anchor="middle">1500</text>
</g>
<g font-family="'Liberation Serif', 'DejaVu Serif', serif" fill="#262626" font-size="80px">
<text x="921.2 972.4 997.6 1059.7 1098.0 1125.2 1155.6" y="1029">Time(s)</text>
<text transform="translate(74.3,586) rotate(-90)" x="-3.5 41.0 68.1 99.9 137.9 181.0" y="0"><tspan font-style="italic">θ</tspan>(rad)</text>
</g>
</svg>
</body>
</html>
